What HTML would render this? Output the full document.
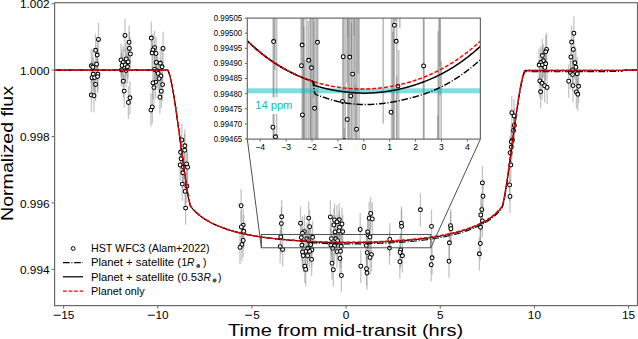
<!DOCTYPE html><html><head><meta charset="utf-8"><style>html,body{margin:0;padding:0;background:#fff;overflow:hidden}svg{display:block}text{font-family:"Liberation Sans",sans-serif;fill:#000}</style></head><body>
<svg width="638" height="339" viewBox="0 0 638 339">
<defs><clipPath id="mc"><rect x="54.50" y="2.70" width="582.90" height="302.90"/></clipPath>
<clipPath id="ic"><rect x="247.30" y="18.10" width="233.10" height="121.00"/></clipPath></defs>
<rect width="638" height="339" fill="#fff"/>
<g clip-path="url(#mc)">
<g stroke="#808080" stroke-opacity="0.47" stroke-width="1.25">
<line x1="98.5" y1="22.8" x2="98.5" y2="56.0"/>
<line x1="95.6" y1="33.7" x2="95.6" y2="66.9"/>
<line x1="97.2" y1="38.5" x2="97.2" y2="71.7"/>
<line x1="96.6" y1="47.6" x2="96.6" y2="80.8"/>
<line x1="91.3" y1="49.2" x2="91.3" y2="82.4"/>
<line x1="92.8" y1="50.6" x2="92.8" y2="83.8"/>
<line x1="93.3" y1="57.6" x2="93.3" y2="90.8"/>
<line x1="97.9" y1="57.6" x2="97.9" y2="90.8"/>
<line x1="92.0" y1="61.1" x2="92.0" y2="94.3"/>
<line x1="94.6" y1="61.0" x2="94.6" y2="94.2"/>
<line x1="97.6" y1="60.0" x2="97.6" y2="93.2"/>
<line x1="95.6" y1="67.8" x2="95.6" y2="101.0"/>
<line x1="91.3" y1="78.4" x2="91.3" y2="111.6"/>
<line x1="94.0" y1="79.1" x2="94.0" y2="112.3"/>
<line x1="125.0" y1="18.8" x2="125.0" y2="52.0"/>
<line x1="129.1" y1="25.6" x2="129.1" y2="58.8"/>
<line x1="129.4" y1="31.8" x2="129.4" y2="65.0"/>
<line x1="130.4" y1="37.4" x2="130.4" y2="70.6"/>
<line x1="121.0" y1="43.4" x2="121.0" y2="76.6"/>
<line x1="126.3" y1="42.4" x2="126.3" y2="75.6"/>
<line x1="128.1" y1="45.3" x2="128.1" y2="78.5"/>
<line x1="123.3" y1="45.8" x2="123.3" y2="79.0"/>
<line x1="122.1" y1="48.9" x2="122.1" y2="82.1"/>
<line x1="125.2" y1="48.2" x2="125.2" y2="81.4"/>
<line x1="127.5" y1="50.2" x2="127.5" y2="83.4"/>
<line x1="121.4" y1="53.3" x2="121.4" y2="86.5"/>
<line x1="126.0" y1="53.8" x2="126.0" y2="87.0"/>
<line x1="123.3" y1="64.6" x2="123.3" y2="97.8"/>
<line x1="124.2" y1="74.5" x2="124.2" y2="107.7"/>
<line x1="130.0" y1="81.2" x2="130.0" y2="114.4"/>
<line x1="128.4" y1="85.9" x2="128.4" y2="119.1"/>
<line x1="151.3" y1="21.5" x2="151.3" y2="54.7"/>
<line x1="154.5" y1="31.1" x2="154.5" y2="64.3"/>
<line x1="152.9" y1="33.4" x2="152.9" y2="66.6"/>
<line x1="152.1" y1="36.5" x2="152.1" y2="69.7"/>
<line x1="156.0" y1="36.9" x2="156.0" y2="70.1"/>
<line x1="163.1" y1="31.8" x2="163.1" y2="65.0"/>
<line x1="156.3" y1="45.8" x2="156.3" y2="79.0"/>
<line x1="160.3" y1="46.7" x2="160.3" y2="79.9"/>
<line x1="162.1" y1="50.2" x2="162.1" y2="83.4"/>
<line x1="154.6" y1="52.9" x2="154.6" y2="86.1"/>
<line x1="157.1" y1="54.4" x2="157.1" y2="87.6"/>
<line x1="158.1" y1="56.9" x2="158.1" y2="90.1"/>
<line x1="160.9" y1="59.4" x2="160.9" y2="92.6"/>
<line x1="159.1" y1="62.0" x2="159.1" y2="95.2"/>
<line x1="155.6" y1="65.5" x2="155.6" y2="98.7"/>
<line x1="152.9" y1="66.3" x2="152.9" y2="99.5"/>
<line x1="162.6" y1="68.0" x2="162.6" y2="101.2"/>
<line x1="153.9" y1="71.0" x2="153.9" y2="104.2"/>
<line x1="161.3" y1="74.6" x2="161.3" y2="107.8"/>
<line x1="159.9" y1="80.6" x2="159.9" y2="113.8"/>
<line x1="152.3" y1="90.3" x2="152.3" y2="123.5"/>
<line x1="150.9" y1="93.5" x2="150.9" y2="126.7"/>
<line x1="181.9" y1="123.4" x2="181.9" y2="156.6"/>
<line x1="184.9" y1="129.2" x2="184.9" y2="162.4"/>
<line x1="184.6" y1="133.6" x2="184.6" y2="166.8"/>
<line x1="180.6" y1="135.7" x2="180.6" y2="168.9"/>
<line x1="181.1" y1="142.2" x2="181.1" y2="175.4"/>
<line x1="180.1" y1="148.4" x2="180.1" y2="181.6"/>
<line x1="186.6" y1="147.4" x2="186.6" y2="180.6"/>
<line x1="187.6" y1="150.6" x2="187.6" y2="183.8"/>
<line x1="183.5" y1="150.5" x2="183.5" y2="183.7"/>
<line x1="182.9" y1="156.2" x2="182.9" y2="189.4"/>
<line x1="182.3" y1="167.5" x2="182.3" y2="200.7"/>
<line x1="186.9" y1="169.7" x2="186.9" y2="202.9"/>
<line x1="185.1" y1="174.8" x2="185.1" y2="208.0"/>
<line x1="185.6" y1="191.5" x2="185.6" y2="224.7"/>
<line x1="241.1" y1="189.1" x2="241.1" y2="222.3"/>
<line x1="243.2" y1="208.5" x2="243.2" y2="241.7"/>
<line x1="241.3" y1="210.4" x2="241.3" y2="243.6"/>
<line x1="243.8" y1="214.7" x2="243.8" y2="247.9"/>
<line x1="243.2" y1="223.9" x2="243.2" y2="257.1"/>
<line x1="241.9" y1="228.0" x2="241.9" y2="261.2"/>
<line x1="240.0" y1="230.8" x2="240.0" y2="264.0"/>
<line x1="281.7" y1="200.2" x2="281.7" y2="233.4"/>
<line x1="281.4" y1="207.0" x2="281.4" y2="240.2"/>
<line x1="280.8" y1="220.4" x2="280.8" y2="253.6"/>
<line x1="280.2" y1="230.0" x2="280.2" y2="263.2"/>
<line x1="282.7" y1="233.0" x2="282.7" y2="266.2"/>
<line x1="300.5" y1="206.6" x2="300.5" y2="239.8"/>
<line x1="308.7" y1="201.5" x2="308.7" y2="234.7"/>
<line x1="309.6" y1="210.1" x2="309.6" y2="243.3"/>
<line x1="304.4" y1="215.0" x2="304.4" y2="248.2"/>
<line x1="302.5" y1="216.6" x2="302.5" y2="249.8"/>
<line x1="301.3" y1="221.0" x2="301.3" y2="254.2"/>
<line x1="312.6" y1="220.7" x2="312.6" y2="253.9"/>
<line x1="306.9" y1="222.2" x2="306.9" y2="255.4"/>
<line x1="308.6" y1="224.1" x2="308.6" y2="257.3"/>
<line x1="310.7" y1="227.9" x2="310.7" y2="261.1"/>
<line x1="301.9" y1="228.5" x2="301.9" y2="261.7"/>
<line x1="307.6" y1="231.6" x2="307.6" y2="264.8"/>
<line x1="311.9" y1="233.2" x2="311.9" y2="266.4"/>
<line x1="305.7" y1="234.8" x2="305.7" y2="268.0"/>
<line x1="302.5" y1="235.4" x2="302.5" y2="268.6"/>
<line x1="309.6" y1="234.8" x2="309.6" y2="268.0"/>
<line x1="303.2" y1="239.1" x2="303.2" y2="272.3"/>
<line x1="307.6" y1="239.1" x2="307.6" y2="272.3"/>
<line x1="311.6" y1="242.8" x2="311.6" y2="276.0"/>
<line x1="304.8" y1="249.7" x2="304.8" y2="282.9"/>
<line x1="305.7" y1="252.8" x2="305.7" y2="286.0"/>
<line x1="330.4" y1="200.3" x2="330.4" y2="233.5"/>
<line x1="334.5" y1="203.4" x2="334.5" y2="236.6"/>
<line x1="339.2" y1="203.2" x2="339.2" y2="236.4"/>
<line x1="337.0" y1="205.3" x2="337.0" y2="238.5"/>
<line x1="333.9" y1="208.4" x2="333.9" y2="241.6"/>
<line x1="342.0" y1="207.4" x2="342.0" y2="240.6"/>
<line x1="339.5" y1="210.9" x2="339.5" y2="244.1"/>
<line x1="335.1" y1="215.3" x2="335.1" y2="248.5"/>
<line x1="338.9" y1="214.4" x2="338.9" y2="247.6"/>
<line x1="342.7" y1="215.0" x2="342.7" y2="248.2"/>
<line x1="331.4" y1="222.0" x2="331.4" y2="255.2"/>
<line x1="335.8" y1="222.2" x2="335.8" y2="255.4"/>
<line x1="337.6" y1="224.1" x2="337.6" y2="257.3"/>
<line x1="330.8" y1="228.5" x2="330.8" y2="261.7"/>
<line x1="334.5" y1="229.1" x2="334.5" y2="262.3"/>
<line x1="341.2" y1="229.7" x2="341.2" y2="262.9"/>
<line x1="332.6" y1="231.6" x2="332.6" y2="264.8"/>
<line x1="337.0" y1="235.0" x2="337.0" y2="268.2"/>
<line x1="340.5" y1="234.6" x2="340.5" y2="267.8"/>
<line x1="339.9" y1="241.9" x2="339.9" y2="275.1"/>
<line x1="332.0" y1="246.6" x2="332.0" y2="279.8"/>
<line x1="333.3" y1="253.2" x2="333.3" y2="286.4"/>
<line x1="341.4" y1="258.9" x2="341.4" y2="292.1"/>
<line x1="360.2" y1="212.9" x2="360.2" y2="246.1"/>
<line x1="360.8" y1="249.7" x2="360.8" y2="282.9"/>
<line x1="369.2" y1="201.6" x2="369.2" y2="234.8"/>
<line x1="370.7" y1="196.9" x2="370.7" y2="230.1"/>
<line x1="372.3" y1="202.4" x2="372.3" y2="235.6"/>
<line x1="367.7" y1="215.3" x2="367.7" y2="248.5"/>
<line x1="368.1" y1="218.3" x2="368.1" y2="251.5"/>
<line x1="370.0" y1="220.4" x2="370.0" y2="253.6"/>
<line x1="366.3" y1="229.0" x2="366.3" y2="262.2"/>
<line x1="367.2" y1="236.0" x2="367.2" y2="269.2"/>
<line x1="371.5" y1="238.0" x2="371.5" y2="271.2"/>
<line x1="370.0" y1="240.9" x2="370.0" y2="274.1"/>
<line x1="366.5" y1="252.2" x2="366.5" y2="285.4"/>
<line x1="367.0" y1="256.4" x2="367.0" y2="289.6"/>
<line x1="389.8" y1="222.9" x2="389.8" y2="256.1"/>
<line x1="389.5" y1="231.5" x2="389.5" y2="264.7"/>
<line x1="401.4" y1="206.6" x2="401.4" y2="239.8"/>
<line x1="401.6" y1="209.8" x2="401.6" y2="243.0"/>
<line x1="400.7" y1="233.3" x2="400.7" y2="266.5"/>
<line x1="400.1" y1="235.9" x2="400.1" y2="269.1"/>
<line x1="402.4" y1="239.2" x2="402.4" y2="272.4"/>
<line x1="399.9" y1="245.2" x2="399.9" y2="278.4"/>
<line x1="420.4" y1="193.2" x2="420.4" y2="226.4"/>
<line x1="431.5" y1="209.8" x2="431.5" y2="243.0"/>
<line x1="432.1" y1="241.2" x2="432.1" y2="274.4"/>
<line x1="431.2" y1="248.1" x2="431.2" y2="281.3"/>
<line x1="450.5" y1="209.1" x2="450.5" y2="242.3"/>
<line x1="450.9" y1="212.1" x2="450.9" y2="245.3"/>
<line x1="449.4" y1="226.2" x2="449.4" y2="259.4"/>
<line x1="449.0" y1="244.6" x2="449.0" y2="277.8"/>
<line x1="482.4" y1="166.3" x2="482.4" y2="199.5"/>
<line x1="483.0" y1="179.6" x2="483.0" y2="212.8"/>
<line x1="481.8" y1="193.0" x2="481.8" y2="226.2"/>
<line x1="480.8" y1="198.4" x2="480.8" y2="231.6"/>
<line x1="482.4" y1="204.3" x2="482.4" y2="237.5"/>
<line x1="480.5" y1="210.6" x2="480.5" y2="243.8"/>
<line x1="480.3" y1="226.9" x2="480.3" y2="260.1"/>
<line x1="479.4" y1="237.2" x2="479.4" y2="270.4"/>
<line x1="511.8" y1="96.1" x2="511.8" y2="129.3"/>
<line x1="514.1" y1="99.3" x2="514.1" y2="132.5"/>
<line x1="514.4" y1="108.8" x2="514.4" y2="142.0"/>
<line x1="513.6" y1="113.8" x2="513.6" y2="147.0"/>
<line x1="512.3" y1="123.5" x2="512.3" y2="156.7"/>
<line x1="511.3" y1="125.2" x2="511.3" y2="158.4"/>
<line x1="511.3" y1="130.5" x2="511.3" y2="163.7"/>
<line x1="510.1" y1="136.1" x2="510.1" y2="169.3"/>
<line x1="510.8" y1="148.4" x2="510.8" y2="181.6"/>
<line x1="509.6" y1="168.3" x2="509.6" y2="201.5"/>
<line x1="510.0" y1="179.9" x2="510.0" y2="213.1"/>
<line x1="546.6" y1="32.8" x2="546.6" y2="66.0"/>
<line x1="545.7" y1="35.2" x2="545.7" y2="68.4"/>
<line x1="542.4" y1="39.0" x2="542.4" y2="72.2"/>
<line x1="543.4" y1="44.2" x2="543.4" y2="77.4"/>
<line x1="540.8" y1="46.0" x2="540.8" y2="79.2"/>
<line x1="539.1" y1="48.5" x2="539.1" y2="81.7"/>
<line x1="542.5" y1="48.3" x2="542.5" y2="81.5"/>
<line x1="545.7" y1="47.2" x2="545.7" y2="80.4"/>
<line x1="544.9" y1="50.9" x2="544.9" y2="84.1"/>
<line x1="539.8" y1="64.3" x2="539.8" y2="97.5"/>
<line x1="542.1" y1="66.7" x2="542.1" y2="99.9"/>
<line x1="544.6" y1="69.1" x2="544.6" y2="102.3"/>
<line x1="547.1" y1="70.9" x2="547.1" y2="104.1"/>
<line x1="540.6" y1="75.2" x2="540.6" y2="108.4"/>
<line x1="573.9" y1="16.6" x2="573.9" y2="49.8"/>
<line x1="571.6" y1="25.5" x2="571.6" y2="58.7"/>
<line x1="573.3" y1="32.8" x2="573.3" y2="66.0"/>
<line x1="570.9" y1="40.4" x2="570.9" y2="73.6"/>
<line x1="574.9" y1="46.2" x2="574.9" y2="79.4"/>
<line x1="575.9" y1="50.6" x2="575.9" y2="83.8"/>
<line x1="572.6" y1="53.4" x2="572.6" y2="86.6"/>
<line x1="570.4" y1="55.8" x2="570.4" y2="89.0"/>
<line x1="572.6" y1="58.0" x2="572.6" y2="91.2"/>
<line x1="577.3" y1="57.1" x2="577.3" y2="90.3"/>
<line x1="568.7" y1="64.6" x2="568.7" y2="97.8"/>
<line x1="573.0" y1="69.0" x2="573.0" y2="102.2"/>
<line x1="578.6" y1="69.7" x2="578.6" y2="102.9"/>
<line x1="576.4" y1="75.3" x2="576.4" y2="108.5"/>
<line x1="577.8" y1="77.7" x2="577.8" y2="110.9"/>
</g>
<g fill="#fff" stroke="#000" stroke-width="1.05">
<circle cx="98.5" cy="39.4" r="1.95"/>
<circle cx="95.6" cy="50.3" r="1.95"/>
<circle cx="97.2" cy="55.1" r="1.95"/>
<circle cx="96.6" cy="64.2" r="1.95"/>
<circle cx="91.3" cy="65.8" r="1.95"/>
<circle cx="92.8" cy="67.2" r="1.95"/>
<circle cx="93.3" cy="74.2" r="1.95"/>
<circle cx="97.9" cy="74.2" r="1.95"/>
<circle cx="92.0" cy="77.7" r="1.95"/>
<circle cx="94.6" cy="77.6" r="1.95"/>
<circle cx="97.6" cy="76.6" r="1.95"/>
<circle cx="95.6" cy="84.4" r="1.95"/>
<circle cx="91.3" cy="95.0" r="1.95"/>
<circle cx="94.0" cy="95.7" r="1.95"/>
<circle cx="125.0" cy="35.4" r="1.95"/>
<circle cx="129.1" cy="42.2" r="1.95"/>
<circle cx="129.4" cy="48.4" r="1.95"/>
<circle cx="130.4" cy="54.0" r="1.95"/>
<circle cx="121.0" cy="60.0" r="1.95"/>
<circle cx="126.3" cy="59.0" r="1.95"/>
<circle cx="128.1" cy="61.9" r="1.95"/>
<circle cx="123.3" cy="62.4" r="1.95"/>
<circle cx="122.1" cy="65.5" r="1.95"/>
<circle cx="125.2" cy="64.8" r="1.95"/>
<circle cx="127.5" cy="66.8" r="1.95"/>
<circle cx="121.4" cy="69.9" r="1.95"/>
<circle cx="126.0" cy="70.4" r="1.95"/>
<circle cx="123.3" cy="81.2" r="1.95"/>
<circle cx="124.2" cy="91.1" r="1.95"/>
<circle cx="130.0" cy="97.8" r="1.95"/>
<circle cx="128.4" cy="102.5" r="1.95"/>
<circle cx="151.3" cy="38.1" r="1.95"/>
<circle cx="154.5" cy="47.7" r="1.95"/>
<circle cx="152.9" cy="50.0" r="1.95"/>
<circle cx="152.1" cy="53.1" r="1.95"/>
<circle cx="156.0" cy="53.5" r="1.95"/>
<circle cx="163.1" cy="48.4" r="1.95"/>
<circle cx="156.3" cy="62.4" r="1.95"/>
<circle cx="160.3" cy="63.3" r="1.95"/>
<circle cx="162.1" cy="66.8" r="1.95"/>
<circle cx="154.6" cy="69.5" r="1.95"/>
<circle cx="157.1" cy="71.0" r="1.95"/>
<circle cx="158.1" cy="73.5" r="1.95"/>
<circle cx="160.9" cy="76.0" r="1.95"/>
<circle cx="159.1" cy="78.6" r="1.95"/>
<circle cx="155.6" cy="82.1" r="1.95"/>
<circle cx="152.9" cy="82.9" r="1.95"/>
<circle cx="162.6" cy="84.6" r="1.95"/>
<circle cx="153.9" cy="87.6" r="1.95"/>
<circle cx="161.3" cy="91.2" r="1.95"/>
<circle cx="159.9" cy="97.2" r="1.95"/>
<circle cx="152.3" cy="106.9" r="1.95"/>
<circle cx="150.9" cy="110.1" r="1.95"/>
<circle cx="181.9" cy="140.0" r="1.95"/>
<circle cx="184.9" cy="145.8" r="1.95"/>
<circle cx="184.6" cy="150.2" r="1.95"/>
<circle cx="180.6" cy="152.3" r="1.95"/>
<circle cx="181.1" cy="158.8" r="1.95"/>
<circle cx="180.1" cy="165.0" r="1.95"/>
<circle cx="186.6" cy="164.0" r="1.95"/>
<circle cx="187.6" cy="167.2" r="1.95"/>
<circle cx="183.5" cy="167.1" r="1.95"/>
<circle cx="182.9" cy="172.8" r="1.95"/>
<circle cx="182.3" cy="184.1" r="1.95"/>
<circle cx="186.9" cy="186.3" r="1.95"/>
<circle cx="185.1" cy="191.4" r="1.95"/>
<circle cx="185.6" cy="208.1" r="1.95"/>
<circle cx="241.1" cy="205.7" r="1.95"/>
<circle cx="243.2" cy="225.1" r="1.95"/>
<circle cx="241.3" cy="227.0" r="1.95"/>
<circle cx="243.8" cy="231.3" r="1.95"/>
<circle cx="243.2" cy="240.5" r="1.95"/>
<circle cx="241.9" cy="244.6" r="1.95"/>
<circle cx="240.0" cy="247.4" r="1.95"/>
<circle cx="281.7" cy="216.8" r="1.95"/>
<circle cx="281.4" cy="223.6" r="1.95"/>
<circle cx="280.8" cy="237.0" r="1.95"/>
<circle cx="280.2" cy="246.6" r="1.95"/>
<circle cx="282.7" cy="249.6" r="1.95"/>
<circle cx="300.5" cy="223.2" r="1.95"/>
<circle cx="308.7" cy="218.1" r="1.95"/>
<circle cx="309.6" cy="226.7" r="1.95"/>
<circle cx="304.4" cy="231.6" r="1.95"/>
<circle cx="302.5" cy="233.2" r="1.95"/>
<circle cx="301.3" cy="237.6" r="1.95"/>
<circle cx="312.6" cy="237.3" r="1.95"/>
<circle cx="306.9" cy="238.8" r="1.95"/>
<circle cx="308.6" cy="240.7" r="1.95"/>
<circle cx="310.7" cy="244.5" r="1.95"/>
<circle cx="301.9" cy="245.1" r="1.95"/>
<circle cx="307.6" cy="248.2" r="1.95"/>
<circle cx="311.9" cy="249.8" r="1.95"/>
<circle cx="305.7" cy="251.4" r="1.95"/>
<circle cx="302.5" cy="252.0" r="1.95"/>
<circle cx="309.6" cy="251.4" r="1.95"/>
<circle cx="303.2" cy="255.7" r="1.95"/>
<circle cx="307.6" cy="255.7" r="1.95"/>
<circle cx="311.6" cy="259.4" r="1.95"/>
<circle cx="304.8" cy="266.3" r="1.95"/>
<circle cx="305.7" cy="269.4" r="1.95"/>
<circle cx="330.4" cy="216.9" r="1.95"/>
<circle cx="334.5" cy="220.0" r="1.95"/>
<circle cx="339.2" cy="219.8" r="1.95"/>
<circle cx="337.0" cy="221.9" r="1.95"/>
<circle cx="333.9" cy="225.0" r="1.95"/>
<circle cx="342.0" cy="224.0" r="1.95"/>
<circle cx="339.5" cy="227.5" r="1.95"/>
<circle cx="335.1" cy="231.9" r="1.95"/>
<circle cx="338.9" cy="231.0" r="1.95"/>
<circle cx="342.7" cy="231.6" r="1.95"/>
<circle cx="331.4" cy="238.6" r="1.95"/>
<circle cx="335.8" cy="238.8" r="1.95"/>
<circle cx="337.6" cy="240.7" r="1.95"/>
<circle cx="330.8" cy="245.1" r="1.95"/>
<circle cx="334.5" cy="245.7" r="1.95"/>
<circle cx="341.2" cy="246.3" r="1.95"/>
<circle cx="332.6" cy="248.2" r="1.95"/>
<circle cx="337.0" cy="251.6" r="1.95"/>
<circle cx="340.5" cy="251.2" r="1.95"/>
<circle cx="339.9" cy="258.5" r="1.95"/>
<circle cx="332.0" cy="263.2" r="1.95"/>
<circle cx="333.3" cy="269.8" r="1.95"/>
<circle cx="341.4" cy="275.5" r="1.95"/>
<circle cx="360.2" cy="229.5" r="1.95"/>
<circle cx="360.8" cy="266.3" r="1.95"/>
<circle cx="369.2" cy="218.2" r="1.95"/>
<circle cx="370.7" cy="213.5" r="1.95"/>
<circle cx="372.3" cy="219.0" r="1.95"/>
<circle cx="367.7" cy="231.9" r="1.95"/>
<circle cx="368.1" cy="234.9" r="1.95"/>
<circle cx="370.0" cy="237.0" r="1.95"/>
<circle cx="366.3" cy="245.6" r="1.95"/>
<circle cx="367.2" cy="252.6" r="1.95"/>
<circle cx="371.5" cy="254.6" r="1.95"/>
<circle cx="370.0" cy="257.5" r="1.95"/>
<circle cx="366.5" cy="268.8" r="1.95"/>
<circle cx="367.0" cy="273.0" r="1.95"/>
<circle cx="389.8" cy="239.5" r="1.95"/>
<circle cx="389.5" cy="248.1" r="1.95"/>
<circle cx="401.4" cy="223.2" r="1.95"/>
<circle cx="401.6" cy="226.4" r="1.95"/>
<circle cx="400.7" cy="249.9" r="1.95"/>
<circle cx="400.1" cy="252.5" r="1.95"/>
<circle cx="402.4" cy="255.8" r="1.95"/>
<circle cx="399.9" cy="261.8" r="1.95"/>
<circle cx="420.4" cy="209.8" r="1.95"/>
<circle cx="431.5" cy="226.4" r="1.95"/>
<circle cx="432.1" cy="257.8" r="1.95"/>
<circle cx="431.2" cy="264.7" r="1.95"/>
<circle cx="450.5" cy="225.7" r="1.95"/>
<circle cx="450.9" cy="228.7" r="1.95"/>
<circle cx="449.4" cy="242.8" r="1.95"/>
<circle cx="449.0" cy="261.2" r="1.95"/>
<circle cx="482.4" cy="182.9" r="1.95"/>
<circle cx="483.0" cy="196.2" r="1.95"/>
<circle cx="481.8" cy="209.6" r="1.95"/>
<circle cx="480.8" cy="215.0" r="1.95"/>
<circle cx="482.4" cy="220.9" r="1.95"/>
<circle cx="480.5" cy="227.2" r="1.95"/>
<circle cx="480.3" cy="243.5" r="1.95"/>
<circle cx="479.4" cy="253.8" r="1.95"/>
<circle cx="511.8" cy="112.7" r="1.95"/>
<circle cx="514.1" cy="115.9" r="1.95"/>
<circle cx="514.4" cy="125.4" r="1.95"/>
<circle cx="513.6" cy="130.4" r="1.95"/>
<circle cx="512.3" cy="140.1" r="1.95"/>
<circle cx="511.3" cy="141.8" r="1.95"/>
<circle cx="511.3" cy="147.1" r="1.95"/>
<circle cx="510.1" cy="152.7" r="1.95"/>
<circle cx="510.8" cy="165.0" r="1.95"/>
<circle cx="509.6" cy="184.9" r="1.95"/>
<circle cx="510.0" cy="196.5" r="1.95"/>
<circle cx="546.6" cy="49.4" r="1.95"/>
<circle cx="545.7" cy="51.8" r="1.95"/>
<circle cx="542.4" cy="55.6" r="1.95"/>
<circle cx="543.4" cy="60.8" r="1.95"/>
<circle cx="540.8" cy="62.6" r="1.95"/>
<circle cx="539.1" cy="65.1" r="1.95"/>
<circle cx="542.5" cy="64.9" r="1.95"/>
<circle cx="545.7" cy="63.8" r="1.95"/>
<circle cx="544.9" cy="67.5" r="1.95"/>
<circle cx="539.8" cy="80.9" r="1.95"/>
<circle cx="542.1" cy="83.3" r="1.95"/>
<circle cx="544.6" cy="85.7" r="1.95"/>
<circle cx="547.1" cy="87.5" r="1.95"/>
<circle cx="540.6" cy="91.8" r="1.95"/>
<circle cx="573.9" cy="33.2" r="1.95"/>
<circle cx="571.6" cy="42.1" r="1.95"/>
<circle cx="573.3" cy="49.4" r="1.95"/>
<circle cx="570.9" cy="57.0" r="1.95"/>
<circle cx="574.9" cy="62.8" r="1.95"/>
<circle cx="575.9" cy="67.2" r="1.95"/>
<circle cx="572.6" cy="70.0" r="1.95"/>
<circle cx="570.4" cy="72.4" r="1.95"/>
<circle cx="572.6" cy="74.6" r="1.95"/>
<circle cx="577.3" cy="73.7" r="1.95"/>
<circle cx="568.7" cy="81.2" r="1.95"/>
<circle cx="573.0" cy="85.6" r="1.95"/>
<circle cx="578.6" cy="86.3" r="1.95"/>
<circle cx="576.4" cy="91.9" r="1.95"/>
<circle cx="577.8" cy="94.3" r="1.95"/>
</g>
<path d="M44.82 70.15L74.95 70.15L105.08 70.15L135.20 70.15L165.33 70.15L165.57 70.15L165.81 70.15L166.04 70.15L166.28 70.15L166.52 70.15L166.76 70.15L166.99 70.15L167.23 70.15L167.47 70.15L167.71 70.15L167.94 70.46L168.18 70.89L168.42 71.40L168.65 71.98L168.89 72.61L169.13 73.22L169.37 74.02L169.60 74.88L169.84 75.77L170.08 76.70L170.32 77.66L170.55 78.64L170.79 79.62L171.03 80.74L171.27 81.89L171.50 83.07L171.74 84.26L171.98 85.47L172.22 86.63L172.45 87.94L172.69 89.28L172.93 90.65L173.16 92.03L173.40 93.42L173.64 94.81L173.88 96.17L174.11 97.67L174.35 99.19L174.59 100.71L174.83 102.25L175.06 103.78L175.30 105.27L175.54 106.84L175.78 108.47L176.01 110.11L176.25 111.76L176.49 113.40L176.72 115.03L176.96 116.60L177.20 118.33L177.44 120.05L177.67 121.78L177.91 123.50L178.15 125.22L178.39 126.88L178.62 128.59L178.86 130.38L179.10 132.16L179.34 133.94L179.57 135.70L179.81 137.45L180.05 139.12L180.29 140.94L180.52 142.75L180.76 144.55L181.00 146.34L181.23 148.11L181.47 149.83L181.71 151.56L181.95 153.38L182.18 155.18L182.42 156.96L182.66 158.73L182.90 160.46L183.13 162.10L183.37 163.89L183.61 165.66L183.85 167.40L184.08 169.13L184.32 170.82L184.56 172.46L184.79 174.08L185.03 175.79L185.27 177.46L185.51 179.11L185.74 180.72L185.98 182.29L186.22 183.74L186.46 185.34L186.69 186.90L186.93 188.42L187.17 189.90L187.41 191.33L187.64 192.69L187.88 194.00L188.12 195.38L188.36 196.71L188.59 197.99L188.83 199.21L189.07 200.34L189.30 201.32L189.54 202.41L189.78 203.42L190.02 204.34L190.25 205.15L190.49 205.82L190.73 206.20L190.97 206.51L191.20 206.88L191.44 207.22L191.68 207.53L191.92 207.81L192.15 208.10L192.39 208.34L192.63 208.68L192.86 208.99L193.10 209.28L193.34 209.53L193.58 209.75L194.54 210.85L195.51 211.80L196.47 212.75L197.44 213.52L198.40 214.44L199.37 215.19L200.33 215.97L201.30 216.71L202.26 217.34L203.23 218.09L204.19 218.71L205.16 219.36L206.13 219.87L207.09 220.52L208.06 221.05L209.02 221.59L209.99 222.15L210.95 222.56L211.92 223.16L212.88 223.60L213.85 224.09L214.81 224.48L215.78 224.96L216.74 225.38L217.71 225.75L218.67 226.22L219.64 226.58L220.60 226.99L221.57 227.26L222.53 227.71L223.50 228.03L224.46 228.37L225.43 228.74L226.40 228.98L227.36 229.40L228.33 229.68L229.29 230.01L230.26 230.25L231.22 230.57L232.19 230.86L233.15 231.07L234.12 231.43L235.08 231.67L236.05 231.95L237.01 232.12L237.98 232.42L238.94 232.66L239.91 232.85L240.87 233.15L241.84 233.34L242.80 233.60L243.77 233.72L244.73 234.00L245.70 234.20L246.66 234.36L247.63 234.62L248.60 234.79L249.56 235.01L250.53 235.11L251.49 235.35L252.46 235.52L253.42 235.65L254.39 235.90L255.35 236.04L256.32 236.22L257.28 236.31L258.25 236.51L259.21 236.68L260.18 236.75L261.14 236.99L262.11 237.10L263.07 237.27L264.04 237.37L265.00 237.49L265.97 237.67L266.93 237.77L267.90 237.93L268.87 237.98L269.83 238.15L270.80 238.28L271.76 238.30L272.73 238.53L273.69 238.53L274.66 238.73L275.62 238.83L276.59 238.87L277.55 239.07L278.52 239.11L279.48 239.24L280.45 239.33L281.41 239.35L282.38 239.55L283.34 239.53L284.31 239.69L285.27 239.79L286.24 239.77L287.20 239.97L288.17 239.98L289.14 240.08L290.10 240.21L291.07 240.26L292.03 240.34L293.00 240.40L293.96 240.38L294.93 240.56L295.89 240.58L296.86 240.62L297.82 240.76L298.79 240.74L299.75 240.83L300.72 240.94L301.68 240.90L302.65 241.00L303.61 241.11L304.58 241.07L305.54 241.14L306.51 241.26L307.47 241.26L308.44 241.24L308.63 241.34L308.82 241.36L309.00 241.33L309.19 241.48L309.38 241.65L309.57 241.85L309.76 242.08L309.95 242.21L310.13 242.35L310.32 242.58L310.51 242.60L310.70 242.72L310.89 242.78L311.52 242.84L312.14 242.87L312.77 242.88L313.40 242.85L314.03 242.94L314.66 242.90L315.28 242.98L315.91 243.04L316.54 243.09L317.17 243.13L317.79 243.17L318.42 243.20L319.05 243.22L319.68 243.24L320.31 243.26L320.93 243.28L321.56 243.30L322.19 243.32L322.82 243.35L323.45 243.38L324.07 243.41L324.70 243.45L325.33 243.49L325.96 243.53L326.58 243.56L327.21 243.59L327.84 243.60L328.47 243.59L329.10 243.55L329.72 243.63L330.35 243.66L330.98 243.71L331.61 243.69L332.24 243.58L332.86 243.74L333.49 243.76L334.12 243.61L334.75 243.80L335.38 243.71L336.00 243.83L336.63 243.69L337.26 243.85L337.89 243.84L338.51 243.71L339.14 243.81L339.77 243.86L340.40 243.88L341.03 243.88L341.65 243.84L342.28 243.72L342.91 243.94L343.54 243.86L344.17 243.95L344.79 243.77L345.42 243.89L346.05 243.93L346.68 243.94L347.30 243.90L347.93 243.79L348.56 243.96L349.19 243.89L349.82 243.96L350.44 243.77L351.07 243.89L351.70 243.93L352.33 243.94L352.96 243.93L353.58 243.89L354.21 243.80L354.84 243.89L355.47 243.92L356.10 243.81L356.72 243.90L357.35 243.83L357.98 243.88L358.61 243.76L359.23 243.87L359.86 243.81L360.49 243.75L361.12 243.83L361.75 243.83L362.37 243.77L363.00 243.67L363.63 243.74L364.26 243.77L364.89 243.77L365.51 243.76L366.14 243.73L366.77 243.69L367.40 243.65L368.02 243.64L368.65 243.65L369.28 243.64L369.91 243.62L370.54 243.60L371.16 243.58L371.79 243.55L372.42 243.50L373.05 243.50L373.68 243.50L374.30 243.50L374.93 243.49L375.56 243.48L376.19 243.46L376.81 243.43L377.44 243.38L378.07 243.33L378.70 243.26L379.33 243.30L379.95 243.23L380.58 243.26L381.21 243.27L381.84 243.26L382.47 243.23L383.09 243.17L383.72 243.09L384.35 243.13L384.98 243.07L385.61 243.09L386.23 243.09L386.86 243.05L387.49 242.99L388.12 242.89L388.74 242.94L389.37 242.91L390.00 242.91L390.63 242.88L391.26 242.82L391.88 242.71L392.51 242.75L393.14 242.73L393.77 242.73L394.40 242.69L395.02 242.60L395.65 242.55L396.28 242.51L396.91 242.53L397.53 242.51L398.16 242.44L398.79 242.32L399.42 242.34L400.05 242.32L400.67 242.30L401.30 242.24L401.93 242.13L402.56 242.14L403.19 242.08L403.81 242.07L404.44 242.01L405.07 241.90L405.70 241.90L406.33 241.84L406.95 241.82L407.58 241.76L408.21 241.63L408.84 241.63L409.46 241.58L410.09 241.55L410.72 241.48L411.35 241.34L411.98 241.28L412.60 241.30L413.23 241.26L413.86 241.17L414.49 241.04L415.12 241.00L415.74 241.00L416.37 240.94L417.00 240.82L417.63 240.79L418.25 240.70L418.88 240.68L419.51 240.59L420.14 240.44L420.77 240.37L421.39 240.37L422.02 240.32L422.65 240.20L423.28 240.11L423.91 240.02L424.53 240.00L425.16 239.92L425.79 239.77L426.42 239.72L427.05 239.65L427.67 239.59L428.30 239.47L428.93 239.35L429.56 239.26L430.18 239.23L430.81 239.13L431.44 238.97L432.07 238.90L432.70 238.84L433.32 238.76L433.95 238.62L434.58 238.52L435.21 238.41L435.84 238.35L436.46 238.24L437.09 238.05L437.72 237.94L438.35 237.91L438.97 237.81L439.60 237.65L440.23 237.56L440.86 237.43L441.49 237.36L442.11 237.21L442.74 236.99L443.37 236.92L444.00 236.86L444.63 236.73L445.25 236.54L445.88 236.42L446.51 236.33L447.14 236.21L447.76 236.04L448.39 235.91L449.02 235.76L449.65 235.66L450.28 235.49L450.90 235.25L451.53 235.15L452.16 235.07L452.79 234.91L453.42 234.69L454.04 234.53L454.67 234.43L455.30 234.29L455.93 234.08L456.56 233.93L457.18 233.75L457.81 233.62L458.44 233.42L459.07 233.20L459.69 233.03L460.32 232.90L460.95 232.71L461.58 232.45L462.21 232.25L462.83 232.14L463.46 231.95L464.09 231.70L464.72 231.52L465.35 231.33L465.97 231.14L466.60 230.89L467.23 230.69L467.86 230.46L468.48 230.28L469.11 230.03L469.74 229.74L470.37 229.52L471.00 229.35L471.62 229.10L472.25 228.78L472.88 228.52L473.51 228.35L474.14 228.10L474.76 227.78L475.39 227.53L476.02 227.28L476.65 227.03L477.28 226.70L477.90 226.43L478.53 226.13L479.16 225.86L479.79 225.54L480.41 225.21L481.04 224.88L481.67 224.61L482.30 224.27L482.93 223.85L483.55 223.53L484.18 223.25L484.81 222.89L485.44 222.46L486.07 222.06L486.69 221.76L487.32 221.38L487.95 220.94L488.58 220.54L489.20 220.13L489.83 219.73L490.46 219.25L491.09 218.81L491.72 218.33L492.34 217.89L492.97 217.38L493.60 216.86L494.23 216.33L494.86 215.84L495.48 215.28L496.11 214.64L496.74 214.06L497.37 213.51L498.00 212.88L498.62 212.16L498.86 211.95L499.10 211.71L499.34 211.44L499.57 211.14L499.81 210.80L500.05 210.58L500.28 210.30L500.52 210.03L500.76 209.74L501.00 209.42L501.23 209.06L501.47 208.78L501.71 208.42L501.95 208.12L502.18 207.78L502.42 207.14L502.66 206.35L502.90 205.44L503.13 204.62L503.37 203.62L503.61 202.53L503.84 201.37L504.08 200.14L504.32 198.86L504.56 197.63L504.79 196.36L505.03 195.00L505.27 193.59L505.51 192.13L505.74 190.64L505.98 189.10L506.22 187.70L506.46 186.19L506.69 184.62L506.93 183.02L507.17 181.38L507.41 179.72L507.64 178.12L507.88 176.52L508.12 174.86L508.35 173.16L508.59 171.44L508.83 169.69L509.07 167.93L509.30 166.30L509.54 164.59L509.78 162.83L510.02 161.06L510.25 159.27L510.49 157.46L510.73 155.73L510.97 154.02L511.20 152.25L511.44 150.46L511.68 148.65L511.91 146.84L512.15 145.02L512.39 143.34L512.63 141.59L512.86 139.81L513.10 138.02L513.34 136.22L513.58 134.42L513.81 132.69L514.05 131.01L514.29 129.28L514.53 127.53L514.76 125.78L515.00 124.03L515.24 122.28L515.48 120.67L515.71 119.01L515.95 117.34L516.19 115.66L516.42 113.98L516.66 112.31L516.90 110.69L517.14 109.17L517.37 107.60L517.61 106.02L517.85 104.44L518.09 102.88L518.32 101.33L518.56 99.91L518.80 98.47L519.04 97.02L519.27 95.58L519.51 94.15L519.75 92.74L519.98 91.35L520.22 90.14L520.46 88.86L520.70 87.59L520.93 86.33L521.17 85.10L521.41 83.89L521.65 82.82L521.88 81.76L522.12 80.70L522.36 79.66L522.60 78.66L522.83 77.69L523.07 76.76L523.31 76.02L523.55 75.25L523.78 74.52L524.02 73.83L524.26 73.20L524.49 72.64L524.73 72.25L524.97 71.96L525.21 71.80L525.44 71.80L525.68 71.80L525.92 71.79L526.16 71.79L526.39 71.79L526.63 71.79L526.87 71.79L529.23 71.78L531.60 71.78L533.97 71.77L536.33 71.77L538.70 71.76L541.06 71.76L543.43 71.75L545.79 71.75L548.16 71.74L550.53 71.74L552.89 71.73L555.26 71.73L557.62 71.72L559.99 71.72L562.36 71.71L564.72 71.71L567.09 71.70L569.45 71.70L571.82 71.69L574.18 71.68L576.55 71.68L578.92 71.67L581.28 71.67L583.65 71.66L586.01 71.66L588.38 71.65L590.75 71.65L593.11 71.64L595.48 71.63L597.84 71.63L600.21 71.62L602.57 71.61L604.94 71.60L607.31 71.58L609.67 71.57L612.04 71.55L614.40 71.53L616.77 71.51L619.13 71.48L619.48 71.48L619.83 71.47L620.18 71.47L620.52 71.44L620.87 71.40L621.22 71.33L621.56 71.25L621.91 71.15L622.26 71.04L622.60 70.92L622.95 70.80L623.30 70.67L623.64 70.54L623.99 70.42L624.34 70.29L624.68 70.18L625.03 70.15L625.38 70.15L625.73 70.15L631.14 70.15L636.55 70.15L641.97 70.15L647.38 70.15" fill="none" stroke="#000" stroke-width="1.1" stroke-dasharray="6.7 1.7 1.05 1.7"/>
<path d="M44.82 70.15L74.95 70.15L105.08 70.15L135.20 70.15L165.33 70.15L165.57 70.15L165.81 70.15L166.04 70.15L166.28 70.15L166.52 70.15L166.76 70.15L166.99 70.15L167.23 70.15L167.47 70.15L167.71 70.15L167.94 70.46L168.18 70.89L168.42 71.40L168.65 71.98L168.89 72.61L169.13 73.22L169.37 74.02L169.60 74.88L169.84 75.77L170.08 76.70L170.32 77.66L170.55 78.64L170.79 79.62L171.03 80.74L171.27 81.89L171.50 83.07L171.74 84.26L171.98 85.47L172.22 86.63L172.45 87.94L172.69 89.28L172.93 90.65L173.16 92.03L173.40 93.42L173.64 94.81L173.88 96.17L174.11 97.67L174.35 99.19L174.59 100.71L174.83 102.25L175.06 103.78L175.30 105.27L175.54 106.84L175.78 108.47L176.01 110.11L176.25 111.76L176.49 113.40L176.72 115.03L176.96 116.60L177.20 118.33L177.44 120.05L177.67 121.78L177.91 123.50L178.15 125.22L178.39 126.88L178.62 128.59L178.86 130.38L179.10 132.16L179.34 133.94L179.57 135.70L179.81 137.45L180.05 139.12L180.29 140.94L180.52 142.75L180.76 144.55L181.00 146.34L181.23 148.11L181.47 149.83L181.71 151.56L181.95 153.38L182.18 155.18L182.42 156.96L182.66 158.73L182.90 160.46L183.13 162.10L183.37 163.89L183.61 165.66L183.85 167.40L184.08 169.13L184.32 170.82L184.56 172.46L184.79 174.08L185.03 175.79L185.27 177.46L185.51 179.11L185.74 180.72L185.98 182.29L186.22 183.74L186.46 185.34L186.69 186.90L186.93 188.42L187.17 189.90L187.41 191.33L187.64 192.69L187.88 194.00L188.12 195.38L188.36 196.71L188.59 197.99L188.83 199.21L189.07 200.34L189.30 201.32L189.54 202.41L189.78 203.42L190.02 204.34L190.25 205.15L190.49 205.82L190.73 206.20L190.97 206.51L191.20 206.88L191.44 207.22L191.68 207.53L191.92 207.81L192.15 208.10L192.39 208.34L192.63 208.68L192.86 208.99L193.10 209.28L193.34 209.53L193.58 209.75L194.54 210.85L195.51 211.80L196.47 212.75L197.44 213.52L198.40 214.44L199.37 215.19L200.33 215.97L201.30 216.71L202.26 217.34L203.23 218.09L204.19 218.71L205.16 219.36L206.13 219.87L207.09 220.52L208.06 221.05L209.02 221.59L209.99 222.15L210.95 222.56L211.92 223.16L212.88 223.60L213.85 224.09L214.81 224.48L215.78 224.96L216.74 225.38L217.71 225.75L218.67 226.22L219.64 226.58L220.60 226.99L221.57 227.26L222.53 227.71L223.50 228.03L224.46 228.37L225.43 228.74L226.40 228.98L227.36 229.40L228.33 229.68L229.29 230.01L230.26 230.25L231.22 230.57L232.19 230.86L233.15 231.07L234.12 231.43L235.08 231.67L236.05 231.95L237.01 232.12L237.98 232.42L238.94 232.66L239.91 232.85L240.87 233.15L241.84 233.34L242.80 233.60L243.77 233.72L244.73 234.00L245.70 234.20L246.66 234.36L247.63 234.62L248.60 234.79L249.56 235.01L250.53 235.11L251.49 235.35L252.46 235.52L253.42 235.65L254.39 235.90L255.35 236.04L256.32 236.22L257.28 236.31L258.25 236.51L259.21 236.68L260.18 236.75L261.14 236.99L262.11 237.10L263.07 237.27L264.04 237.37L265.00 237.49L265.97 237.67L266.93 237.77L267.90 237.93L268.87 237.98L269.83 238.15L270.80 238.28L271.76 238.30L272.73 238.53L273.69 238.53L274.66 238.73L275.62 238.83L276.59 238.87L277.55 239.07L278.52 239.11L279.48 239.24L280.45 239.33L281.41 239.35L282.38 239.55L283.34 239.53L284.31 239.69L285.27 239.79L286.24 239.77L287.20 239.97L288.17 239.98L289.14 240.08L290.10 240.21L291.07 240.26L292.03 240.34L293.00 240.40L293.96 240.38L294.93 240.56L295.89 240.58L296.86 240.62L297.82 240.76L298.79 240.74L299.75 240.83L300.72 240.94L301.68 240.90L302.65 241.00L303.61 241.11L304.58 241.07L305.54 241.14L306.51 241.26L307.47 241.26L308.44 241.24L308.63 241.34L308.82 241.36L309.00 241.33L309.19 241.41L309.38 241.46L309.57 241.52L309.76 241.62L309.95 241.63L310.13 241.66L310.32 241.79L310.51 241.73L310.70 241.81L310.89 241.86L311.52 241.90L312.14 241.91L312.77 241.91L313.40 241.88L314.03 241.96L314.66 241.91L315.28 241.98L315.91 242.04L316.54 242.08L317.17 242.12L317.79 242.14L318.42 242.16L319.05 242.18L319.68 242.19L320.31 242.20L320.93 242.20L321.56 242.21L322.19 242.22L322.82 242.24L323.45 242.26L324.07 242.29L324.70 242.32L325.33 242.35L325.96 242.38L326.58 242.40L327.21 242.42L327.84 242.43L328.47 242.41L329.10 242.36L329.72 242.43L330.35 242.46L330.98 242.51L331.61 242.48L332.24 242.37L332.86 242.52L333.49 242.54L334.12 242.39L334.75 242.58L335.38 242.48L336.00 242.60L336.63 242.46L337.26 242.61L337.89 242.60L338.51 242.47L339.14 242.58L339.77 242.62L340.40 242.64L341.03 242.64L341.65 242.59L342.28 242.47L342.91 242.69L343.54 242.61L344.17 242.70L344.79 242.52L345.42 242.64L346.05 242.68L346.68 242.68L347.30 242.65L347.93 242.54L348.56 242.71L349.19 242.64L349.82 242.71L350.44 242.52L351.07 242.63L351.70 242.67L352.33 242.68L352.96 242.67L353.58 242.63L354.21 242.54L354.84 242.63L355.47 242.66L356.10 242.55L356.72 242.64L357.35 242.57L357.98 242.62L358.61 242.50L359.23 242.61L359.86 242.55L360.49 242.49L361.12 242.57L361.75 242.57L362.37 242.51L363.00 242.41L363.63 242.48L364.26 242.51L364.89 242.51L365.51 242.49L366.14 242.46L366.77 242.43L367.40 242.38L368.02 242.38L368.65 242.39L369.28 242.37L369.91 242.36L370.54 242.34L371.16 242.32L371.79 242.28L372.42 242.23L373.05 242.23L373.68 242.23L374.30 242.23L374.93 242.22L375.56 242.21L376.19 242.18L376.81 242.15L377.44 242.11L378.07 242.05L378.70 241.98L379.33 242.02L379.95 241.94L380.58 241.97L381.21 241.98L381.84 241.96L382.47 241.92L383.09 241.87L383.72 241.78L384.35 241.81L384.98 241.75L385.61 241.77L386.23 241.76L386.86 241.72L387.49 241.65L388.12 241.54L388.74 241.60L389.37 241.56L390.00 241.56L390.63 241.53L391.26 241.46L391.88 241.35L392.51 241.38L393.14 241.35L393.77 241.35L394.40 241.30L395.02 241.22L395.65 241.16L396.28 241.12L396.91 241.14L397.53 241.11L398.16 241.04L398.79 240.92L399.42 240.93L400.05 240.91L400.67 240.89L401.30 240.83L401.93 240.71L402.56 240.72L403.19 240.67L403.81 240.65L404.44 240.59L405.07 240.47L405.70 240.47L406.33 240.41L406.95 240.40L407.58 240.33L408.21 240.20L408.84 240.20L409.46 240.15L410.09 240.12L410.72 240.04L411.35 239.90L411.98 239.84L412.60 239.86L413.23 239.82L413.86 239.72L414.49 239.60L415.12 239.56L415.74 239.56L416.37 239.50L417.00 239.38L417.63 239.34L418.25 239.25L418.88 239.23L419.51 239.14L420.14 238.99L420.77 238.91L421.39 238.92L422.02 238.86L422.65 238.74L423.28 238.66L423.91 238.57L424.53 238.54L425.16 238.46L425.79 238.31L426.42 238.26L427.05 238.19L427.67 238.13L428.30 238.01L428.93 237.89L429.56 237.80L430.18 237.77L430.81 237.67L431.44 237.51L432.07 237.44L432.70 237.38L433.32 237.30L433.95 237.16L434.58 237.06L435.21 236.95L435.84 236.90L436.46 236.78L437.09 236.60L437.72 236.48L438.35 236.46L438.97 236.36L439.60 236.20L440.23 236.11L440.86 235.98L441.49 235.91L442.11 235.76L442.74 235.55L443.37 235.47L444.00 235.42L444.63 235.29L445.25 235.09L445.88 234.98L446.51 234.89L447.14 234.78L447.76 234.60L448.39 234.48L449.02 234.33L449.65 234.23L450.28 234.07L450.90 233.83L451.53 233.72L452.16 233.64L452.79 233.49L453.42 233.27L454.04 233.11L454.67 233.02L455.30 232.87L455.93 232.67L456.56 232.52L457.18 232.34L457.81 232.21L458.44 232.02L459.07 231.80L459.69 231.63L460.32 231.51L460.95 231.32L461.58 231.05L462.21 230.86L462.83 230.75L463.46 230.57L464.09 230.31L464.72 230.14L465.35 229.94L465.97 229.76L466.60 229.52L467.23 229.31L467.86 229.08L468.48 228.90L469.11 228.66L469.74 228.37L470.37 228.16L471.00 227.98L471.62 227.74L472.25 227.42L472.88 227.16L473.51 226.99L474.14 226.74L474.76 226.43L475.39 226.18L476.02 225.93L476.65 225.68L477.28 225.36L477.90 225.09L478.53 224.78L479.16 224.52L479.79 224.19L480.41 223.87L481.04 223.54L481.67 223.27L482.30 222.94L482.93 222.52L483.55 222.20L484.18 221.92L484.81 221.56L485.44 221.14L486.07 220.73L486.69 220.44L487.32 220.07L487.95 219.62L488.58 219.23L489.20 218.82L489.83 218.42L490.46 217.95L491.09 217.51L491.72 217.03L492.34 216.59L492.97 216.09L493.60 215.57L494.23 215.03L494.86 214.55L495.48 213.99L496.11 213.35L496.74 212.78L497.37 212.23L498.00 211.60L498.62 210.89L498.86 210.68L499.10 210.43L499.34 210.16L499.57 209.86L499.81 209.53L500.05 209.30L500.28 209.03L500.52 208.76L500.76 208.47L501.00 208.15L501.23 207.79L501.47 207.51L501.71 207.15L501.95 206.86L502.18 206.52L502.42 205.88L502.66 205.09L502.90 204.18L503.13 203.36L503.37 202.36L503.61 201.27L503.84 200.11L504.08 198.88L504.32 197.60L504.56 196.38L504.79 195.10L505.03 193.75L505.27 192.34L505.51 190.88L505.74 189.39L505.98 187.86L506.22 186.46L506.46 184.94L506.69 183.38L506.93 181.77L507.17 180.14L507.41 178.48L507.64 176.88L507.88 175.28L508.12 173.62L508.35 171.92L508.59 170.20L508.83 168.46L509.07 166.69L509.30 165.07L509.54 163.35L509.78 161.60L510.02 159.83L510.25 158.04L510.49 156.24L510.73 154.50L510.97 152.79L511.20 151.02L511.44 149.24L511.68 147.43L511.91 145.62L512.15 143.80L512.39 142.12L512.63 140.37L512.86 138.59L513.10 136.80L513.34 135.01L513.58 133.21L513.81 131.48L514.05 129.80L514.29 128.06L514.53 126.32L514.76 124.57L515.00 122.82L515.24 121.07L515.48 119.46L515.71 117.81L515.95 116.13L516.19 114.45L516.42 112.78L516.66 111.11L516.90 109.49L517.14 107.97L517.37 106.40L517.61 104.82L517.85 103.25L518.09 101.68L518.32 100.13L518.56 98.71L518.80 97.28L519.04 95.83L519.27 94.39L519.51 92.96L519.75 91.55L519.98 90.16L520.22 88.95L520.46 87.67L520.70 86.40L520.93 85.14L521.17 83.91L521.41 82.71L521.65 81.63L521.88 80.57L522.12 79.51L522.36 78.48L522.60 77.48L522.83 76.51L523.07 75.58L523.31 74.85L523.55 74.07L523.78 73.34L524.02 72.65L524.26 72.02L524.49 71.47L524.73 71.08L524.97 70.79L525.21 70.62L525.44 70.62L525.68 70.62L525.92 70.62L526.16 70.62L526.39 70.62L526.63 70.62L526.87 70.62L529.23 70.62L531.60 70.62L533.97 70.61L536.33 70.61L538.70 70.61L541.06 70.61L543.43 70.61L545.79 70.61L548.16 70.61L550.53 70.60L552.89 70.60L555.26 70.60L557.62 70.60L559.99 70.60L562.36 70.60L564.72 70.60L567.09 70.59L569.45 70.59L571.82 70.59L574.18 70.59L576.55 70.59L578.92 70.58L581.28 70.58L583.65 70.58L586.01 70.58L588.38 70.58L590.75 70.58L593.11 70.58L595.48 70.57L597.84 70.57L600.21 70.57L602.57 70.57L604.94 70.56L607.31 70.56L609.67 70.55L612.04 70.55L614.40 70.54L616.77 70.53L619.13 70.53L619.48 70.53L619.83 70.52L620.18 70.52L620.52 70.52L620.87 70.50L621.22 70.48L621.56 70.46L621.91 70.43L622.26 70.40L622.60 70.37L622.95 70.33L623.30 70.30L623.64 70.26L623.99 70.23L624.34 70.19L624.68 70.16L625.03 70.15L625.38 70.15L625.73 70.15L631.14 70.15L636.55 70.15L641.97 70.15L647.38 70.15" fill="none" stroke="#000" stroke-width="1.1"/>
<path d="M44.82 70.15L74.95 70.15L105.08 70.15L135.20 70.15L165.33 70.15L165.57 70.15L165.81 70.15L166.04 70.15L166.28 70.15L166.52 70.15L166.76 70.15L166.99 70.15L167.23 70.15L167.47 70.15L167.71 70.15L167.94 70.46L168.18 70.89L168.42 71.40L168.65 71.98L168.89 72.61L169.13 73.22L169.37 74.02L169.60 74.88L169.84 75.77L170.08 76.70L170.32 77.66L170.55 78.64L170.79 79.62L171.03 80.74L171.27 81.89L171.50 83.07L171.74 84.26L171.98 85.47L172.22 86.63L172.45 87.94L172.69 89.28L172.93 90.65L173.16 92.03L173.40 93.42L173.64 94.81L173.88 96.17L174.11 97.67L174.35 99.19L174.59 100.71L174.83 102.25L175.06 103.78L175.30 105.27L175.54 106.84L175.78 108.47L176.01 110.11L176.25 111.76L176.49 113.40L176.72 115.03L176.96 116.60L177.20 118.33L177.44 120.05L177.67 121.78L177.91 123.50L178.15 125.22L178.39 126.88L178.62 128.59L178.86 130.38L179.10 132.16L179.34 133.94L179.57 135.70L179.81 137.45L180.05 139.12L180.29 140.94L180.52 142.75L180.76 144.55L181.00 146.34L181.23 148.11L181.47 149.83L181.71 151.56L181.95 153.38L182.18 155.18L182.42 156.96L182.66 158.73L182.90 160.46L183.13 162.10L183.37 163.89L183.61 165.66L183.85 167.40L184.08 169.13L184.32 170.82L184.56 172.46L184.79 174.08L185.03 175.79L185.27 177.46L185.51 179.11L185.74 180.72L185.98 182.29L186.22 183.74L186.46 185.34L186.69 186.90L186.93 188.42L187.17 189.90L187.41 191.33L187.64 192.69L187.88 194.00L188.12 195.38L188.36 196.71L188.59 197.99L188.83 199.21L189.07 200.34L189.30 201.32L189.54 202.41L189.78 203.42L190.02 204.34L190.25 205.15L190.49 205.82L190.73 206.20L190.97 206.51L191.20 206.88L191.44 207.22L191.68 207.53L191.92 207.81L192.15 208.10L192.39 208.34L192.63 208.68L192.86 208.99L193.10 209.28L193.34 209.53L193.58 209.75L194.54 210.85L195.51 211.80L196.47 212.75L197.44 213.52L198.40 214.44L199.37 215.19L200.33 215.97L201.30 216.71L202.26 217.34L203.23 218.09L204.19 218.71L205.16 219.36L206.13 219.87L207.09 220.52L208.06 221.05L209.02 221.59L209.99 222.15L210.95 222.56L211.92 223.16L212.88 223.60L213.85 224.09L214.81 224.48L215.78 224.96L216.74 225.38L217.71 225.75L218.67 226.22L219.64 226.58L220.60 226.99L221.57 227.26L222.53 227.71L223.50 228.03L224.46 228.37L225.43 228.74L226.40 228.98L227.36 229.40L228.33 229.68L229.29 230.01L230.26 230.25L231.22 230.57L232.19 230.86L233.15 231.07L234.12 231.43L235.08 231.67L236.05 231.95L237.01 232.12L237.98 232.42L238.94 232.66L239.91 232.85L240.87 233.15L241.84 233.34L242.80 233.60L243.77 233.72L244.73 234.00L245.70 234.20L246.66 234.36L247.63 234.62L248.60 234.79L249.56 235.01L250.53 235.11L251.49 235.35L252.46 235.52L253.42 235.65L254.39 235.90L255.35 236.04L256.32 236.22L257.28 236.31L258.25 236.51L259.21 236.68L260.18 236.75L261.14 236.99L262.11 237.10L263.07 237.27L264.04 237.37L265.00 237.49L265.97 237.67L266.93 237.77L267.90 237.93L268.87 237.98L269.83 238.15L270.80 238.28L271.76 238.30L272.73 238.53L273.69 238.53L274.66 238.73L275.62 238.83L276.59 238.87L277.55 239.07L278.52 239.11L279.48 239.24L280.45 239.33L281.41 239.35L282.38 239.55L283.34 239.53L284.31 239.69L285.27 239.79L286.24 239.77L287.20 239.97L288.17 239.98L289.14 240.08L290.10 240.21L291.07 240.26L292.03 240.34L293.00 240.40L293.96 240.38L294.93 240.56L295.89 240.58L296.86 240.62L297.82 240.76L298.79 240.74L299.75 240.83L300.72 240.94L301.68 240.90L302.65 241.00L303.61 241.11L304.58 241.07L305.54 241.14L306.51 241.26L307.47 241.26L308.44 241.24L308.63 241.34L308.82 241.36L309.00 241.33L309.19 241.38L309.38 241.37L309.57 241.38L309.76 241.42L309.95 241.37L310.13 241.36L310.32 241.45L310.51 241.36L310.70 241.42L310.89 241.46L311.52 241.50L312.14 241.52L312.77 241.51L313.40 241.48L314.03 241.56L314.66 241.51L315.28 241.59L315.91 241.64L316.54 241.69L317.17 241.72L317.79 241.75L318.42 241.77L319.05 241.78L319.68 241.79L320.31 241.80L320.93 241.81L321.56 241.82L322.19 241.83L322.82 241.84L323.45 241.86L324.07 241.89L324.70 241.92L325.33 241.95L325.96 241.98L326.58 242.00L327.21 242.02L327.84 242.02L328.47 242.01L329.10 241.96L329.72 242.03L330.35 242.05L330.98 242.10L331.61 242.08L332.24 241.96L332.86 242.11L333.49 242.13L334.12 241.97L334.75 242.16L335.38 242.06L336.00 242.18L336.63 242.04L337.26 242.19L337.89 242.17L338.51 242.04L339.14 242.14L339.77 242.19L340.40 242.20L341.03 242.19L341.65 242.15L342.28 242.03L342.91 242.24L343.54 242.16L344.17 242.25L344.79 242.07L345.42 242.18L346.05 242.22L346.68 242.22L347.30 242.19L347.93 242.08L348.56 242.25L349.19 242.17L349.82 242.24L350.44 242.05L351.07 242.17L351.70 242.21L352.33 242.21L352.96 242.20L353.58 242.16L354.21 242.08L354.84 242.16L355.47 242.19L356.10 242.08L356.72 242.17L357.35 242.10L357.98 242.15L358.61 242.03L359.23 242.14L359.86 242.08L360.49 242.01L361.12 242.10L361.75 242.09L362.37 242.04L363.00 241.93L363.63 242.00L364.26 242.03L364.89 242.03L365.51 242.02L366.14 241.99L366.77 241.95L367.40 241.91L368.02 241.90L368.65 241.91L369.28 241.90L369.91 241.88L370.54 241.86L371.16 241.84L371.79 241.80L372.42 241.75L373.05 241.75L373.68 241.75L374.30 241.75L374.93 241.74L375.56 241.72L376.19 241.70L376.81 241.67L377.44 241.63L378.07 241.57L378.70 241.50L379.33 241.54L379.95 241.46L380.58 241.49L381.21 241.49L381.84 241.47L382.47 241.44L383.09 241.38L383.72 241.29L384.35 241.32L384.98 241.25L385.61 241.28L386.23 241.26L386.86 241.22L387.49 241.15L388.12 241.05L388.74 241.10L389.37 241.06L390.00 241.06L390.63 241.02L391.26 240.95L391.88 240.84L392.51 240.87L393.14 240.84L393.77 240.83L394.40 240.79L395.02 240.70L395.65 240.65L396.28 240.60L396.91 240.62L397.53 240.59L398.16 240.52L398.79 240.39L399.42 240.40L400.05 240.38L400.67 240.36L401.30 240.30L401.93 240.18L402.56 240.19L403.19 240.13L403.81 240.12L404.44 240.05L405.07 239.94L405.70 239.93L406.33 239.87L406.95 239.86L407.58 239.78L408.21 239.66L408.84 239.65L409.46 239.60L410.09 239.57L410.72 239.49L411.35 239.35L411.98 239.29L412.60 239.31L413.23 239.27L413.86 239.17L414.49 239.04L415.12 239.00L415.74 239.00L416.37 238.94L417.00 238.82L417.63 238.78L418.25 238.69L418.88 238.66L419.51 238.58L420.14 238.43L420.77 238.35L421.39 238.35L422.02 238.29L422.65 238.18L423.28 238.09L423.91 238.00L424.53 237.98L425.16 237.89L425.79 237.74L426.42 237.69L427.05 237.62L427.67 237.56L428.30 237.44L428.93 237.32L429.56 237.23L430.18 237.20L430.81 237.10L431.44 236.94L432.07 236.87L432.70 236.81L433.32 236.73L433.95 236.59L434.58 236.49L435.21 236.38L435.84 236.33L436.46 236.21L437.09 236.03L437.72 235.91L438.35 235.89L438.97 235.79L439.60 235.63L440.23 235.54L440.86 235.41L441.49 235.34L442.11 235.19L442.74 234.98L443.37 234.91L444.00 234.85L444.63 234.72L445.25 234.53L445.88 234.41L446.51 234.32L447.14 234.21L447.76 234.04L448.39 233.92L449.02 233.76L449.65 233.67L450.28 233.50L450.90 233.27L451.53 233.16L452.16 233.08L452.79 232.93L453.42 232.71L454.04 232.55L454.67 232.46L455.30 232.31L455.93 232.11L456.56 231.97L457.18 231.79L457.81 231.66L458.44 231.46L459.07 231.25L459.69 231.07L460.32 230.95L460.95 230.76L461.58 230.50L462.21 230.31L462.83 230.20L463.46 230.01L464.09 229.76L464.72 229.58L465.35 229.39L465.97 229.21L466.60 228.97L467.23 228.76L467.86 228.53L468.48 228.35L469.11 228.11L469.74 227.82L470.37 227.61L471.00 227.43L471.62 227.19L472.25 226.87L472.88 226.62L473.51 226.45L474.14 226.20L474.76 225.88L475.39 225.63L476.02 225.38L476.65 225.13L477.28 224.81L477.90 224.54L478.53 224.24L479.16 223.98L479.79 223.65L480.41 223.33L481.04 223.00L481.67 222.73L482.30 222.40L482.93 221.98L483.55 221.66L484.18 221.38L484.81 221.03L485.44 220.60L486.07 220.20L486.69 219.90L487.32 219.53L487.95 219.09L488.58 218.69L489.20 218.28L489.83 217.88L490.46 217.41L491.09 216.97L491.72 216.50L492.34 216.06L492.97 215.55L493.60 215.04L494.23 214.50L494.86 214.02L495.48 213.47L496.11 212.82L496.74 212.25L497.37 211.70L498.00 211.08L498.62 210.36L498.86 210.15L499.10 209.91L499.34 209.64L499.57 209.34L499.81 209.00L500.05 208.78L500.28 208.50L500.52 208.24L500.76 207.95L501.00 207.63L501.23 207.27L501.47 206.99L501.71 206.63L501.95 206.34L502.18 206.00L502.42 205.36L502.66 204.57L502.90 203.66L503.13 202.84L503.37 201.84L503.61 200.75L503.84 199.59L504.08 198.37L504.32 197.09L504.56 195.86L504.79 194.59L505.03 193.24L505.27 191.83L505.51 190.37L505.74 188.88L505.98 187.35L506.22 185.95L506.46 184.43L506.69 182.87L506.93 181.26L507.17 179.63L507.41 177.97L507.64 176.38L507.88 174.78L508.12 173.11L508.35 171.42L508.59 169.70L508.83 167.95L509.07 166.19L509.30 164.56L509.54 162.85L509.78 161.10L510.02 159.33L510.25 157.54L510.49 155.74L510.73 154.00L510.97 152.29L511.20 150.53L511.44 148.74L511.68 146.93L511.91 145.12L512.15 143.30L512.39 141.62L512.63 139.87L512.86 138.10L513.10 136.31L513.34 134.52L513.58 132.72L513.81 130.98L514.05 129.30L514.29 127.57L514.53 125.83L514.76 124.08L515.00 122.33L515.24 120.58L515.48 118.97L515.71 117.32L515.95 115.64L516.19 113.97L516.42 112.29L516.66 110.62L516.90 109.01L517.14 107.49L517.37 105.91L517.61 104.33L517.85 102.76L518.09 101.20L518.32 99.65L518.56 98.23L518.80 96.79L519.04 95.35L519.27 93.91L519.51 92.48L519.75 91.07L519.98 89.68L520.22 88.47L520.46 87.19L520.70 85.92L520.93 84.67L521.17 83.43L521.41 82.23L521.65 81.16L521.88 80.10L522.12 79.04L522.36 78.00L522.60 77.00L522.83 76.03L523.07 75.11L523.31 74.37L523.55 73.60L523.78 72.86L524.02 72.18L524.26 71.55L524.49 70.99L524.73 70.61L524.97 70.31L525.21 70.15L525.44 70.15L525.68 70.15L525.92 70.15L526.16 70.15L526.39 70.15L526.63 70.15L526.87 70.15L529.23 70.15L531.60 70.15L533.97 70.15L536.33 70.15L538.70 70.15L541.06 70.15L543.43 70.15L545.79 70.15L548.16 70.15L550.53 70.15L552.89 70.15L555.26 70.15L557.62 70.15L559.99 70.15L562.36 70.15L564.72 70.15L567.09 70.15L569.45 70.15L571.82 70.15L574.18 70.15L576.55 70.15L578.92 70.15L581.28 70.15L583.65 70.15L586.01 70.15L588.38 70.15L590.75 70.15L593.11 70.15L595.48 70.15L597.84 70.15L600.21 70.15L602.57 70.15L604.94 70.15L607.31 70.15L609.67 70.15L612.04 70.15L614.40 70.15L616.77 70.15L619.13 70.15L619.48 70.15L619.83 70.15L620.18 70.15L620.52 70.15L620.87 70.15L621.22 70.15L621.56 70.15L621.91 70.15L622.26 70.15L622.60 70.15L622.95 70.15L623.30 70.15L623.64 70.15L623.99 70.15L624.34 70.15L624.68 70.15L625.03 70.15L625.38 70.15L625.73 70.15L631.14 70.15L636.55 70.15L641.97 70.15L647.38 70.15" fill="none" stroke="#f00" stroke-width="1.55" stroke-dasharray="3.9 1.65" stroke-dashoffset="1.55"/>
<rect x="261.37" y="234.49" width="169.47" height="13.28" fill="none" stroke="#505050" stroke-width="1"/>
<line x1="247.30" y1="139.10" x2="261.37" y2="247.77" stroke="#505050" stroke-width="1"/>
<line x1="480.40" y1="139.10" x2="430.84" y2="247.77" stroke="#505050" stroke-width="1"/>
</g>
<rect x="54.60" y="2.70" width="582.90" height="302.90" fill="none" stroke="#6a6a6a" stroke-width="1.2"/>
<path d="M63.65 305.60V308.60M157.80 305.60V308.60M251.95 305.60V308.60M346.10 305.60V308.60M440.25 305.60V308.60M534.40 305.60V308.60M628.55 305.60V308.60M54.50 269.35H51.50M54.50 202.95H51.50M54.50 136.55H51.50M54.50 70.15H51.50M54.50 3.75H51.50" stroke="#6a6a6a" stroke-width="1"/>
<rect x="53.70" y="314.75" width="7.0" height="0.95" fill="#000"/>
<text x="61.30" y="319" font-size="11.8">15</text>
<rect x="147.85" y="314.75" width="7.0" height="0.95" fill="#000"/>
<text x="155.45" y="319" font-size="11.8">10</text>
<rect x="245.15" y="314.75" width="6.8" height="0.95" fill="#000"/>
<text x="253.15" y="319" font-size="11.8">5</text>
<text x="346.10" y="319" font-size="11.8" text-anchor="middle">0</text>
<text x="440.25" y="319" font-size="11.8" text-anchor="middle">5</text>
<text x="534.40" y="319" font-size="11.8" text-anchor="middle">10</text>
<text x="628.55" y="319" font-size="11.8" text-anchor="middle">15</text>
<text x="49.6" y="273.95" font-size="11.8" text-anchor="end" textLength="29.6" lengthAdjust="spacingAndGlyphs">0.994</text>
<text x="49.6" y="207.55" font-size="11.8" text-anchor="end" textLength="29.6" lengthAdjust="spacingAndGlyphs">0.996</text>
<text x="49.6" y="141.15" font-size="11.8" text-anchor="end" textLength="29.6" lengthAdjust="spacingAndGlyphs">0.998</text>
<text x="49.6" y="74.75" font-size="11.8" text-anchor="end" textLength="29.6" lengthAdjust="spacingAndGlyphs">1.000</text>
<text x="49.6" y="8.35" font-size="11.8" text-anchor="end" textLength="29.6" lengthAdjust="spacingAndGlyphs">1.002</text>
<text x="345.6" y="336.1" font-size="16.8" text-anchor="middle" textLength="235" lengthAdjust="spacingAndGlyphs">Time from mid-transit (hrs)</text>
<text transform="translate(13.2,153.5) rotate(-90)" font-size="16" text-anchor="middle" textLength="135" lengthAdjust="spacingAndGlyphs">Normalized flux</text>
<circle cx="73.2" cy="248.5" r="1.9" fill="#fff" stroke="#000" stroke-width="1"/>
<line x1="63" y1="262.6" x2="83" y2="262.6" stroke="#000" stroke-width="1.25" stroke-dasharray="6.7 1.7 1.05 1.7"/>
<line x1="63" y1="276.8" x2="83" y2="276.8" stroke="#000" stroke-width="1.25"/>
<line x1="63" y1="291.1" x2="83" y2="291.1" stroke="#f00" stroke-width="1.3" stroke-dasharray="3.8 1.75"/>
<text x="91.0" y="252.2" font-size="10.4" lengthAdjust="spacingAndGlyphs" textLength="118.6">HST WFC3 (Alam+2022)</text>
<text x="91.0" y="266.4" font-size="10.4" lengthAdjust="spacingAndGlyphs" textLength="90.0">Planet + satellite (</text>
<text x="181.6" y="266.4" font-size="10.4" lengthAdjust="spacingAndGlyphs" textLength="5.6">1</text>
<text x="187.0" y="266.4" font-size="10.4" lengthAdjust="spacingAndGlyphs" font-style="italic" textLength="7.4">R</text>
<circle cx="198.3" cy="266.0" r="2.0" fill="#505050"/>
<text x="203.0" y="266.4" font-size="10.4" lengthAdjust="spacingAndGlyphs">)</text>
<text x="91.0" y="280.8" font-size="10.4" lengthAdjust="spacingAndGlyphs" textLength="90.0">Planet + satellite (</text>
<text x="181.2" y="280.8" font-size="10.4" lengthAdjust="spacingAndGlyphs" textLength="22.2">0.53</text>
<text x="203.6" y="280.8" font-size="10.4" lengthAdjust="spacingAndGlyphs" font-style="italic" textLength="7.4">R</text>
<circle cx="214.6" cy="280.5" r="2.0" fill="#505050"/>
<text x="218.0" y="280.8" font-size="10.4" lengthAdjust="spacingAndGlyphs">)</text>
<text x="91.0" y="295.0" font-size="10.4" lengthAdjust="spacingAndGlyphs" textLength="53.6">Planet only</text>
<rect x="247.30" y="18.10" width="233.10" height="121.00" fill="#fff"/>
<g clip-path="url(#ic)">
<g stroke="#808080" stroke-opacity="0.5" stroke-width="1.6">
<line x1="274.8" y1="-232.1" x2="274.8" y2="70.1"/>
<line x1="274.0" y1="-110.2" x2="274.0" y2="192.0"/>
<line x1="273.2" y1="-22.8" x2="273.2" y2="279.4"/>
<line x1="276.6" y1="4.5" x2="276.6" y2="306.7"/>
<line x1="301.1" y1="-235.8" x2="301.1" y2="66.4"/>
<line x1="312.4" y1="-282.2" x2="312.4" y2="20.0"/>
<line x1="313.6" y1="-203.9" x2="313.6" y2="98.3"/>
<line x1="306.4" y1="-159.3" x2="306.4" y2="142.9"/>
<line x1="303.8" y1="-144.7" x2="303.8" y2="157.5"/>
<line x1="302.2" y1="-104.7" x2="302.2" y2="197.5"/>
<line x1="317.7" y1="-107.4" x2="317.7" y2="194.8"/>
<line x1="309.9" y1="-93.8" x2="309.9" y2="208.4"/>
<line x1="312.2" y1="-76.5" x2="312.2" y2="225.7"/>
<line x1="315.1" y1="-41.9" x2="315.1" y2="260.3"/>
<line x1="303.0" y1="-36.4" x2="303.0" y2="265.8"/>
<line x1="310.8" y1="-8.2" x2="310.8" y2="294.0"/>
<line x1="316.8" y1="6.4" x2="316.8" y2="308.6"/>
<line x1="308.2" y1="20.9" x2="308.2" y2="323.1"/>
<line x1="303.8" y1="26.4" x2="303.8" y2="328.6"/>
<line x1="313.6" y1="20.9" x2="313.6" y2="323.1"/>
<line x1="304.8" y1="60.1" x2="304.8" y2="362.3"/>
<line x1="310.8" y1="60.1" x2="310.8" y2="362.3"/>
<line x1="316.3" y1="93.7" x2="316.3" y2="395.9"/>
<line x1="347.8" y1="-264.9" x2="347.8" y2="37.3"/>
<line x1="354.3" y1="-266.7" x2="354.3" y2="35.5"/>
<line x1="351.3" y1="-247.6" x2="351.3" y2="54.6"/>
<line x1="347.0" y1="-219.4" x2="347.0" y2="82.8"/>
<line x1="358.2" y1="-228.5" x2="358.2" y2="73.7"/>
<line x1="354.7" y1="-196.6" x2="354.7" y2="105.6"/>
<line x1="348.7" y1="-156.6" x2="348.7" y2="145.6"/>
<line x1="353.9" y1="-164.8" x2="353.9" y2="137.4"/>
<line x1="359.1" y1="-159.3" x2="359.1" y2="142.9"/>
<line x1="343.6" y1="-95.6" x2="343.6" y2="206.6"/>
<line x1="349.6" y1="-93.8" x2="349.6" y2="208.4"/>
<line x1="352.1" y1="-76.5" x2="352.1" y2="225.7"/>
<line x1="342.8" y1="-36.4" x2="342.8" y2="265.8"/>
<line x1="347.8" y1="-31.0" x2="347.8" y2="271.2"/>
<line x1="357.1" y1="-25.5" x2="357.1" y2="276.7"/>
<line x1="345.2" y1="-8.2" x2="345.2" y2="294.0"/>
<line x1="351.3" y1="22.7" x2="351.3" y2="324.9"/>
<line x1="356.1" y1="19.1" x2="356.1" y2="321.3"/>
<line x1="355.3" y1="85.5" x2="355.3" y2="387.7"/>
<line x1="344.4" y1="128.3" x2="344.4" y2="430.5"/>
<line x1="383.2" y1="-178.4" x2="383.2" y2="123.8"/>
<line x1="395.6" y1="-281.3" x2="395.6" y2="20.9"/>
<line x1="399.8" y1="-274.0" x2="399.8" y2="28.2"/>
<line x1="393.5" y1="-156.6" x2="393.5" y2="145.6"/>
<line x1="394.1" y1="-129.3" x2="394.1" y2="172.9"/>
<line x1="396.7" y1="-110.2" x2="396.7" y2="192.0"/>
<line x1="391.6" y1="-31.9" x2="391.6" y2="270.3"/>
<line x1="392.8" y1="31.8" x2="392.8" y2="334.0"/>
<line x1="398.7" y1="50.0" x2="398.7" y2="352.2"/>
<line x1="396.7" y1="76.4" x2="396.7" y2="378.6"/>
<line x1="423.9" y1="-87.4" x2="423.9" y2="214.8"/>
<line x1="423.5" y1="-9.1" x2="423.5" y2="293.1"/>
<line x1="439.9" y1="-235.8" x2="439.9" y2="66.4"/>
<line x1="440.1" y1="-206.6" x2="440.1" y2="95.6"/>
<line x1="438.9" y1="7.3" x2="438.9" y2="309.5"/>
<line x1="438.1" y1="30.9" x2="438.1" y2="333.1"/>
<line x1="441.2" y1="61.0" x2="441.2" y2="363.2"/>
<line x1="437.8" y1="115.6" x2="437.8" y2="417.8"/>
<line x1="481.3" y1="-206.6" x2="481.3" y2="95.6"/>
<line x1="482.1" y1="79.2" x2="482.1" y2="381.4"/>
</g>
<rect x="247.30" y="88.3" width="233.10" height="5.0" fill="#00bfbf" fill-opacity="0.5"/>
<rect x="252" y="97.4" width="44" height="16.5" fill="#fff"/>
<text x="255.2" y="108.7" font-size="10.2" fill="#00bfbf" style="fill:#00bfbf" textLength="37.2" lengthAdjust="spacingAndGlyphs">14 ppm</text>
<g fill="#fff" stroke="#000" stroke-width="1.05">
<circle cx="273.6" cy="41.6" r="1.95"/>
<circle cx="302.1" cy="45.1" r="1.95"/>
<circle cx="317.5" cy="42.3" r="1.95"/>
<circle cx="301.4" cy="65.7" r="1.95"/>
<circle cx="308.7" cy="60.3" r="1.95"/>
<circle cx="311.5" cy="67.8" r="1.95"/>
<circle cx="302.4" cy="114.9" r="1.95"/>
<circle cx="314.6" cy="108.3" r="1.95"/>
<circle cx="272.9" cy="127.2" r="1.95"/>
<circle cx="275.5" cy="136.8" r="1.95"/>
<circle cx="394.4" cy="25.3" r="1.95"/>
<circle cx="396.2" cy="41.3" r="1.95"/>
<circle cx="343.2" cy="56.7" r="1.95"/>
<circle cx="349.8" cy="57.1" r="1.95"/>
<circle cx="352.6" cy="74.1" r="1.95"/>
<circle cx="350.7" cy="95.9" r="1.95"/>
<circle cx="398.0" cy="86.1" r="1.95"/>
<circle cx="344.3" cy="140.5" r="1.95"/>
<circle cx="342.5" cy="101.4" r="1.95"/>
<circle cx="347.2" cy="119.5" r="1.95"/>
<circle cx="356.5" cy="129.2" r="1.95"/>
<circle cx="391.0" cy="112.2" r="1.95"/>
<circle cx="423.6" cy="65.9" r="1.95"/>
</g>
<path d="M244.66 38.23L245.26 38.83L245.85 39.43L246.45 40.02L247.05 40.60L247.65 41.19L248.24 41.76L248.84 42.34L249.44 42.90L250.03 43.47L250.63 44.03L251.23 44.58L251.83 45.13L252.42 45.67L253.02 46.21L253.62 46.75L254.22 47.28L254.81 47.81L255.41 48.33L256.01 48.85L256.60 49.37L257.20 49.88L257.80 50.38L258.40 50.88L258.99 51.38L259.59 51.87L260.19 52.36L260.78 52.85L261.38 53.33L261.98 53.81L262.58 54.28L263.17 54.75L263.77 55.21L264.37 55.67L264.96 56.13L265.56 56.58L266.16 57.03L266.76 57.47L267.35 57.91L267.95 58.35L268.55 58.78L269.14 59.21L269.74 59.64L270.34 60.06L270.94 60.47L271.53 60.89L272.13 61.30L272.73 61.70L273.33 62.11L273.92 62.51L274.52 62.90L275.12 63.29L275.71 63.68L276.31 64.06L276.91 64.44L277.51 64.82L278.10 65.19L278.70 65.56L279.30 65.93L279.89 66.29L280.49 66.65L281.09 67.01L281.69 67.36L282.28 67.71L282.88 68.06L283.48 68.40L284.07 68.74L284.67 69.07L285.27 69.40L285.87 69.73L286.46 70.06L287.06 70.38L287.66 70.70L288.26 71.01L288.85 71.33L289.45 71.64L290.05 71.94L290.64 72.24L291.24 72.54L291.84 72.84L292.44 73.13L293.03 73.42L293.63 73.71L294.23 73.99L294.82 74.27L295.42 74.55L296.02 74.83L296.62 75.10L297.21 75.37L297.81 75.63L298.41 75.89L299.00 76.15L299.60 76.41L300.20 76.66L300.80 76.91L301.39 77.16L301.99 77.41L302.59 77.65L303.18 77.89L303.78 78.12L304.38 78.36L304.98 78.59L305.57 78.81L306.17 79.04L306.77 79.26L307.37 79.48L307.96 79.70L308.56 79.91L309.16 80.12L309.75 80.33L310.35 80.53L310.95 80.74L311.55 80.94L312.14 81.13L312.74 81.33L312.78 81.34L312.98 81.90L313.18 83.27L313.34 84.34L313.39 84.69L313.59 86.12L313.79 87.52L313.93 88.46L314.00 88.87L314.20 90.14L314.41 91.29L314.53 91.93L314.61 92.29L314.81 93.11L315.02 93.71L315.13 93.94L315.22 94.06L315.42 94.20L315.63 94.30L315.73 94.35L316.32 94.64L316.92 94.91L317.52 95.16L318.11 95.39L318.71 95.61L319.31 95.82L319.91 96.02L320.50 96.21L321.10 96.40L321.70 96.59L322.30 96.78L322.89 96.97L323.49 97.17L324.09 97.37L324.68 97.58L325.28 97.78L325.88 97.98L326.48 98.18L327.07 98.37L327.67 98.57L328.27 98.76L328.86 98.95L329.46 99.14L330.06 99.33L330.66 99.52L331.25 99.70L331.85 99.88L332.45 100.05L333.04 100.23L333.64 100.40L334.24 100.56L334.84 100.73L335.43 100.89L336.03 101.04L336.63 101.20L337.22 101.35L337.82 101.49L338.42 101.63L339.02 101.77L339.61 101.90L340.21 102.02L340.81 102.15L341.41 102.26L342.00 102.37L342.60 102.48L343.20 102.59L343.79 102.69L344.39 102.79L344.99 102.89L345.59 102.98L346.18 103.07L346.78 103.16L347.38 103.25L347.97 103.33L348.57 103.41L349.17 103.49L349.77 103.57L350.36 103.64L350.96 103.71L351.56 103.78L352.15 103.84L352.75 103.91L353.35 103.97L353.95 104.02L354.54 104.08L355.14 104.13L355.74 104.17L356.34 104.22L356.93 104.26L357.53 104.30L358.13 104.34L358.72 104.37L359.32 104.40L359.92 104.43L360.52 104.46L361.11 104.48L361.71 104.50L362.31 104.51L362.90 104.53L363.50 104.54L364.10 104.54L364.70 104.55L365.29 104.55L365.89 104.55L366.49 104.54L367.08 104.53L367.68 104.52L368.28 104.51L368.88 104.50L369.47 104.48L370.07 104.46L370.67 104.44L371.26 104.41L371.86 104.39L372.46 104.36L373.06 104.32L373.65 104.29L374.25 104.25L374.85 104.21L375.45 104.17L376.04 104.13L376.64 104.08L377.24 104.03L377.83 103.98L378.43 103.93L379.03 103.87L379.63 103.82L380.22 103.76L380.82 103.70L381.42 103.63L382.01 103.56L382.61 103.50L383.21 103.42L383.81 103.35L384.40 103.28L385.00 103.20L385.60 103.12L386.19 103.04L386.79 102.95L387.39 102.86L387.99 102.78L388.58 102.69L389.18 102.59L389.78 102.50L390.38 102.40L390.97 102.30L391.57 102.20L392.17 102.10L392.76 101.99L393.36 101.88L393.96 101.77L394.56 101.66L395.15 101.55L395.75 101.43L396.35 101.32L396.94 101.20L397.54 101.07L398.14 100.95L398.74 100.82L399.33 100.70L399.93 100.57L400.53 100.43L401.12 100.30L401.72 100.16L402.32 100.03L402.92 99.89L403.51 99.75L404.11 99.60L404.71 99.46L405.30 99.31L405.90 99.16L406.50 99.01L407.10 98.86L407.69 98.70L408.29 98.55L408.89 98.40L409.49 98.25L410.08 98.10L410.68 97.95L411.28 97.80L411.87 97.64L412.47 97.49L413.07 97.33L413.67 97.18L414.26 97.02L414.86 96.85L415.46 96.69L416.05 96.52L416.65 96.36L417.25 96.18L417.85 96.01L418.44 95.83L419.04 95.64L419.64 95.46L420.23 95.27L420.83 95.08L421.43 94.89L422.03 94.70L422.62 94.51L423.22 94.31L423.82 94.11L424.42 93.91L425.01 93.71L425.61 93.50L426.21 93.30L426.80 93.09L427.40 92.87L428.00 92.66L428.60 92.44L429.19 92.21L429.79 91.99L430.39 91.76L430.98 91.52L431.58 91.29L432.18 91.05L432.78 90.80L433.37 90.55L433.97 90.30L434.57 90.04L435.16 89.78L435.76 89.52L436.36 89.25L436.96 88.98L437.55 88.70L438.15 88.41L438.75 88.13L439.34 87.84L439.94 87.55L440.54 87.26L441.14 86.96L441.73 86.66L442.33 86.36L442.93 86.05L443.53 85.74L444.12 85.43L444.72 85.11L445.32 84.79L445.91 84.47L446.51 84.15L447.11 83.82L447.71 83.48L448.30 83.15L448.90 82.81L449.50 82.47L450.09 82.12L450.69 81.77L451.29 81.42L451.89 81.07L452.48 80.71L453.08 80.34L453.68 79.98L454.27 79.61L454.87 79.23L455.47 78.86L456.07 78.48L456.66 78.09L457.26 77.70L457.86 77.31L458.46 76.92L459.05 76.52L459.65 76.12L460.25 75.71L460.84 75.30L461.44 74.88L462.04 74.47L462.64 74.04L463.23 73.62L463.83 73.19L464.43 72.75L465.02 72.32L465.62 71.87L466.22 71.43L466.82 70.98L467.41 70.52L468.01 70.07L468.61 69.60L469.20 69.14L469.80 68.67L470.40 68.19L471.00 67.71L471.59 67.23L472.19 66.74L472.79 66.25L473.38 65.75L473.98 65.25L474.58 64.75L475.18 64.24L475.77 63.72L476.37 63.20L476.97 62.68L477.57 62.15L478.16 61.62L478.76 61.08L479.36 60.54L479.95 59.99L480.55 59.44L481.15 58.89L481.75 58.33L482.34 57.76L482.94 57.19" fill="none" stroke="#000" stroke-width="1.45" stroke-dasharray="6.7 1.8 1.1 1.8"/>
<path d="M244.66 38.23L245.26 38.83L245.85 39.43L246.45 40.02L247.05 40.60L247.65 41.19L248.24 41.76L248.84 42.34L249.44 42.90L250.03 43.47L250.63 44.03L251.23 44.58L251.83 45.13L252.42 45.67L253.02 46.21L253.62 46.75L254.22 47.28L254.81 47.81L255.41 48.33L256.01 48.85L256.60 49.37L257.20 49.88L257.80 50.38L258.40 50.88L258.99 51.38L259.59 51.87L260.19 52.36L260.78 52.85L261.38 53.33L261.98 53.81L262.58 54.28L263.17 54.75L263.77 55.21L264.37 55.67L264.96 56.13L265.56 56.58L266.16 57.03L266.76 57.47L267.35 57.91L267.95 58.35L268.55 58.78L269.14 59.21L269.74 59.64L270.34 60.06L270.94 60.47L271.53 60.89L272.13 61.30L272.73 61.70L273.33 62.11L273.92 62.51L274.52 62.90L275.12 63.29L275.71 63.68L276.31 64.06L276.91 64.44L277.51 64.82L278.10 65.19L278.70 65.56L279.30 65.93L279.89 66.29L280.49 66.65L281.09 67.01L281.69 67.36L282.28 67.71L282.88 68.06L283.48 68.40L284.07 68.74L284.67 69.07L285.27 69.40L285.87 69.73L286.46 70.06L287.06 70.38L287.66 70.70L288.26 71.01L288.85 71.33L289.45 71.64L290.05 71.94L290.64 72.24L291.24 72.54L291.84 72.84L292.44 73.13L293.03 73.42L293.63 73.71L294.23 73.99L294.82 74.27L295.42 74.55L296.02 74.83L296.62 75.10L297.21 75.37L297.81 75.63L298.41 75.89L299.00 76.15L299.60 76.41L300.20 76.66L300.80 76.91L301.39 77.16L301.99 77.41L302.59 77.65L303.18 77.89L303.78 78.12L304.38 78.36L304.98 78.59L305.57 78.81L306.17 79.04L306.77 79.26L307.37 79.48L307.96 79.70L308.56 79.91L309.16 80.12L309.75 80.33L310.35 80.53L310.95 80.74L311.55 80.94L312.14 81.13L312.74 81.33L312.78 81.34L312.98 81.56L313.18 82.02L313.34 82.37L313.39 82.49L313.59 82.97L313.79 83.44L313.93 83.75L314.00 83.89L314.20 84.32L314.41 84.71L314.53 84.93L314.61 85.05L314.81 85.34L315.02 85.56L315.13 85.65L315.22 85.70L315.42 85.77L315.63 85.83L315.73 85.86L316.32 86.04L316.92 86.21L317.52 86.39L318.11 86.56L318.71 86.73L319.31 86.89L319.91 87.06L320.50 87.22L321.10 87.37L321.70 87.53L322.30 87.68L322.89 87.83L323.49 87.98L324.09 88.13L324.68 88.27L325.28 88.41L325.88 88.55L326.48 88.69L327.07 88.82L327.67 88.95L328.27 89.08L328.86 89.21L329.46 89.34L330.06 89.46L330.66 89.58L331.25 89.70L331.85 89.82L332.45 89.93L333.04 90.05L333.64 90.16L334.24 90.27L334.84 90.37L335.43 90.48L336.03 90.58L336.63 90.68L337.22 90.77L337.82 90.87L338.42 90.96L339.02 91.05L339.61 91.14L340.21 91.23L340.81 91.31L341.41 91.39L342.00 91.47L342.60 91.55L343.20 91.63L343.79 91.70L344.39 91.78L344.99 91.85L345.59 91.92L346.18 91.99L346.78 92.06L347.38 92.13L347.97 92.19L348.57 92.26L349.17 92.32L349.77 92.38L350.36 92.44L350.96 92.49L351.56 92.55L352.15 92.60L352.75 92.65L353.35 92.70L353.95 92.74L354.54 92.79L355.14 92.83L355.74 92.87L356.34 92.91L356.93 92.94L357.53 92.98L358.13 93.01L358.72 93.03L359.32 93.06L359.92 93.08L360.52 93.10L361.11 93.12L361.71 93.13L362.31 93.14L362.90 93.15L363.50 93.16L364.10 93.16L364.70 93.16L365.29 93.15L365.89 93.15L366.49 93.14L367.08 93.13L367.68 93.11L368.28 93.09L368.88 93.08L369.47 93.05L370.07 93.03L370.67 93.01L371.26 92.98L371.86 92.95L372.46 92.91L373.06 92.88L373.65 92.84L374.25 92.80L374.85 92.76L375.45 92.72L376.04 92.67L376.64 92.62L377.24 92.57L377.83 92.52L378.43 92.47L379.03 92.41L379.63 92.35L380.22 92.29L380.82 92.23L381.42 92.16L382.01 92.09L382.61 92.02L383.21 91.95L383.81 91.88L384.40 91.80L385.00 91.72L385.60 91.64L386.19 91.55L386.79 91.47L387.39 91.38L387.99 91.29L388.58 91.20L389.18 91.10L389.78 91.01L390.38 90.91L390.97 90.81L391.57 90.71L392.17 90.60L392.76 90.49L393.36 90.38L393.96 90.27L394.56 90.16L395.15 90.04L395.75 89.92L396.35 89.80L396.94 89.68L397.54 89.55L398.14 89.42L398.74 89.30L399.33 89.16L399.93 89.03L400.53 88.89L401.12 88.75L401.72 88.61L402.32 88.47L402.92 88.33L403.51 88.18L404.11 88.03L404.71 87.88L405.30 87.72L405.90 87.57L406.50 87.41L407.10 87.25L407.69 87.08L408.29 86.92L408.89 86.75L409.49 86.58L410.08 86.41L410.68 86.23L411.28 86.05L411.87 85.88L412.47 85.69L413.07 85.51L413.67 85.32L414.26 85.13L414.86 84.94L415.46 84.75L416.05 84.55L416.65 84.36L417.25 84.15L417.85 83.95L418.44 83.75L419.04 83.54L419.64 83.33L420.23 83.12L420.83 82.90L421.43 82.69L422.03 82.47L422.62 82.25L423.22 82.03L423.82 81.80L424.42 81.58L425.01 81.35L425.61 81.11L426.21 80.88L426.80 80.64L427.40 80.40L428.00 80.16L428.60 79.92L429.19 79.67L429.79 79.42L430.39 79.17L430.98 78.91L431.58 78.65L432.18 78.39L432.78 78.12L433.37 77.86L433.97 77.59L434.57 77.31L435.16 77.03L435.76 76.75L436.36 76.47L436.96 76.18L437.55 75.89L438.15 75.60L438.75 75.30L439.34 75.00L439.94 74.70L440.54 74.39L441.14 74.09L441.73 73.77L442.33 73.46L442.93 73.14L443.53 72.82L444.12 72.50L444.72 72.17L445.32 71.84L445.91 71.51L446.51 71.17L447.11 70.83L447.71 70.49L448.30 70.15L448.90 69.80L449.50 69.45L450.09 69.09L450.69 68.73L451.29 68.37L451.89 68.01L452.48 67.64L453.08 67.27L453.68 66.89L454.27 66.51L454.87 66.13L455.47 65.75L456.07 65.36L456.66 64.96L457.26 64.57L457.86 64.17L458.46 63.77L459.05 63.36L459.65 62.95L460.25 62.54L460.84 62.12L461.44 61.70L462.04 61.27L462.64 60.84L463.23 60.41L463.83 59.98L464.43 59.54L465.02 59.09L465.62 58.65L466.22 58.19L466.82 57.74L467.41 57.28L468.01 56.82L468.61 56.35L469.20 55.88L469.80 55.40L470.40 54.92L471.00 54.44L471.59 53.95L472.19 53.46L472.79 52.97L473.38 52.47L473.98 51.97L474.58 51.46L475.18 50.95L475.77 50.43L476.37 49.91L476.97 49.38L477.57 48.85L478.16 48.32L478.76 47.78L479.36 47.24L479.95 46.69L480.55 46.14L481.15 45.59L481.75 45.03L482.34 44.46L482.94 43.89" fill="none" stroke="#000" stroke-width="1.5"/>
<path d="M244.66 38.23L245.26 38.83L245.85 39.43L246.45 40.02L247.05 40.60L247.65 41.19L248.24 41.76L248.84 42.34L249.44 42.90L250.03 43.47L250.63 44.03L251.23 44.58L251.83 45.13L252.42 45.67L253.02 46.21L253.62 46.75L254.22 47.28L254.81 47.81L255.41 48.33L256.01 48.85L256.60 49.37L257.20 49.88L257.80 50.38L258.40 50.88L258.99 51.38L259.59 51.87L260.19 52.36L260.78 52.85L261.38 53.33L261.98 53.81L262.58 54.28L263.17 54.75L263.77 55.21L264.37 55.67L264.96 56.13L265.56 56.58L266.16 57.03L266.76 57.47L267.35 57.91L267.95 58.35L268.55 58.78L269.14 59.21L269.74 59.64L270.34 60.06L270.94 60.47L271.53 60.89L272.13 61.30L272.73 61.70L273.33 62.11L273.92 62.51L274.52 62.90L275.12 63.29L275.71 63.68L276.31 64.06L276.91 64.44L277.51 64.82L278.10 65.19L278.70 65.56L279.30 65.93L279.89 66.29L280.49 66.65L281.09 67.01L281.69 67.36L282.28 67.71L282.88 68.06L283.48 68.40L284.07 68.74L284.67 69.07L285.27 69.40L285.87 69.73L286.46 70.06L287.06 70.38L287.66 70.70L288.26 71.01L288.85 71.33L289.45 71.64L290.05 71.94L290.64 72.24L291.24 72.54L291.84 72.84L292.44 73.13L293.03 73.42L293.63 73.71L294.23 73.99L294.82 74.27L295.42 74.55L296.02 74.83L296.62 75.10L297.21 75.37L297.81 75.63L298.41 75.89L299.00 76.15L299.60 76.41L300.20 76.66L300.80 76.91L301.39 77.16L301.99 77.41L302.59 77.65L303.18 77.89L303.78 78.12L304.38 78.36L304.98 78.59L305.57 78.81L306.17 79.04L306.77 79.26L307.37 79.48L307.96 79.70L308.56 79.91L309.16 80.12L309.75 80.33L310.35 80.53L310.95 80.74L311.55 80.94L312.14 81.13L312.74 81.33L312.78 81.34L312.98 81.41L313.18 81.47L313.34 81.52L313.39 81.54L313.59 81.60L313.79 81.66L313.93 81.71L314.00 81.73L314.20 81.79L314.41 81.86L314.53 81.89L314.61 81.92L314.81 81.98L315.02 82.04L315.13 82.08L315.22 82.11L315.42 82.17L315.63 82.23L315.73 82.26L316.32 82.44L316.92 82.61L317.52 82.79L318.11 82.96L318.71 83.13L319.31 83.29L319.91 83.46L320.50 83.62L321.10 83.77L321.70 83.93L322.30 84.08L322.89 84.23L323.49 84.38L324.09 84.53L324.68 84.67L325.28 84.81L325.88 84.95L326.48 85.08L327.07 85.22L327.67 85.35L328.27 85.48L328.86 85.60L329.46 85.72L330.06 85.85L330.66 85.96L331.25 86.08L331.85 86.19L332.45 86.31L333.04 86.41L333.64 86.52L334.24 86.63L334.84 86.73L335.43 86.83L336.03 86.93L336.63 87.02L337.22 87.11L337.82 87.20L338.42 87.29L339.02 87.38L339.61 87.46L340.21 87.54L340.81 87.62L341.41 87.70L342.00 87.77L342.60 87.85L343.20 87.92L343.79 87.98L344.39 88.05L344.99 88.11L345.59 88.17L346.18 88.23L346.78 88.29L347.38 88.34L347.97 88.40L348.57 88.45L349.17 88.49L349.77 88.54L350.36 88.58L350.96 88.62L351.56 88.66L352.15 88.70L352.75 88.73L353.35 88.77L353.95 88.80L354.54 88.82L355.14 88.85L355.74 88.87L356.34 88.90L356.93 88.92L357.53 88.93L358.13 88.95L358.72 88.96L359.32 88.97L359.92 88.98L360.52 88.99L361.11 88.99L361.71 88.99L362.31 88.99L362.90 88.99L363.50 88.99L364.10 88.98L364.70 88.97L365.29 88.96L365.89 88.95L366.49 88.93L367.08 88.92L367.68 88.90L368.28 88.88L368.88 88.85L369.47 88.83L370.07 88.80L370.67 88.77L371.26 88.74L371.86 88.70L372.46 88.67L373.06 88.63L373.65 88.59L374.25 88.55L374.85 88.50L375.45 88.46L376.04 88.41L376.64 88.36L377.24 88.30L377.83 88.25L378.43 88.19L379.03 88.13L379.63 88.07L380.22 88.00L380.82 87.94L381.42 87.87L382.01 87.80L382.61 87.73L383.21 87.65L383.81 87.57L384.40 87.49L385.00 87.41L385.60 87.33L386.19 87.24L386.79 87.16L387.39 87.07L387.99 86.97L388.58 86.88L389.18 86.78L389.78 86.68L390.38 86.58L390.97 86.48L391.57 86.38L392.17 86.27L392.76 86.16L393.36 86.05L393.96 85.93L394.56 85.82L395.15 85.70L395.75 85.58L396.35 85.45L396.94 85.33L397.54 85.20L398.14 85.07L398.74 84.94L399.33 84.80L399.93 84.67L400.53 84.53L401.12 84.38L401.72 84.24L402.32 84.09L402.92 83.95L403.51 83.80L404.11 83.64L404.71 83.49L405.30 83.33L405.90 83.17L406.50 83.01L407.10 82.84L407.69 82.68L408.29 82.51L408.89 82.33L409.49 82.16L410.08 81.98L410.68 81.80L411.28 81.62L411.87 81.44L412.47 81.25L413.07 81.06L413.67 80.87L414.26 80.68L414.86 80.48L415.46 80.28L416.05 80.08L416.65 79.88L417.25 79.67L417.85 79.46L418.44 79.25L419.04 79.04L419.64 78.82L420.23 78.60L420.83 78.38L421.43 78.16L422.03 77.93L422.62 77.70L423.22 77.47L423.82 77.23L424.42 77.00L425.01 76.76L425.61 76.51L426.21 76.27L426.80 76.02L427.40 75.77L428.00 75.52L428.60 75.26L429.19 75.00L429.79 74.74L430.39 74.48L430.98 74.21L431.58 73.94L432.18 73.67L432.78 73.39L433.37 73.12L433.97 72.83L434.57 72.55L435.16 72.26L435.76 71.97L436.36 71.68L436.96 71.39L437.55 71.09L438.15 70.79L438.75 70.48L439.34 70.18L439.94 69.87L440.54 69.55L441.14 69.24L441.73 68.92L442.33 68.60L442.93 68.27L443.53 67.94L444.12 67.61L444.72 67.28L445.32 66.94L445.91 66.60L446.51 66.26L447.11 65.91L447.71 65.56L448.30 65.21L448.90 64.85L449.50 64.49L450.09 64.13L450.69 63.76L451.29 63.39L451.89 63.02L452.48 62.65L453.08 62.27L453.68 61.88L454.27 61.50L454.87 61.11L455.47 60.72L456.07 60.32L456.66 59.92L457.26 59.52L457.86 59.11L458.46 58.70L459.05 58.29L459.65 57.87L460.25 57.45L460.84 57.03L461.44 56.60L462.04 56.17L462.64 55.74L463.23 55.30L463.83 54.86L464.43 54.41L465.02 53.97L465.62 53.51L466.22 53.06L466.82 52.60L467.41 52.13L468.01 51.67L468.61 51.19L469.20 50.72L469.80 50.24L470.40 49.76L471.00 49.27L471.59 48.78L472.19 48.29L472.79 47.79L473.38 47.29L473.98 46.78L474.58 46.27L475.18 45.75L475.77 45.24L476.37 44.71L476.97 44.19L477.57 43.66L478.16 43.12L478.76 42.58L479.36 42.04L479.95 41.49L480.55 40.94L481.15 40.39L481.75 39.83L482.34 39.26L482.94 38.69" fill="none" stroke="#f00" stroke-width="1.5" stroke-dasharray="4 1.9"/>
</g>
<rect x="247.30" y="18.10" width="233.10" height="121.00" fill="none" stroke="#6a6a6a" stroke-width="1.2"/>
<path d="M260.20 139.10V141.60M286.10 139.10V141.60M312.00 139.10V141.60M337.90 139.10V141.60M363.80 139.10V141.60M389.70 139.10V141.60M415.60 139.10V141.60M441.50 139.10V141.60M467.40 139.10V141.60M247.30 138.98H244.80M247.30 123.87H244.80M247.30 108.76H244.80M247.30 93.65H244.80M247.30 78.54H244.80M247.30 63.43H244.80M247.30 48.32H244.80M247.30 33.21H244.80M247.30 18.10H244.80" stroke="#6a6a6a" stroke-width="1"/>
<text x="260.20" y="150.2" font-size="8.6" text-anchor="middle">−4</text>
<text x="286.10" y="150.2" font-size="8.6" text-anchor="middle">−3</text>
<text x="312.00" y="150.2" font-size="8.6" text-anchor="middle">−2</text>
<text x="337.90" y="150.2" font-size="8.6" text-anchor="middle">−1</text>
<text x="363.80" y="150.2" font-size="8.6" text-anchor="middle">0</text>
<text x="389.70" y="150.2" font-size="8.6" text-anchor="middle">1</text>
<text x="415.60" y="150.2" font-size="8.6" text-anchor="middle">2</text>
<text x="441.50" y="150.2" font-size="8.6" text-anchor="middle">3</text>
<text x="467.40" y="150.2" font-size="8.6" text-anchor="middle">4</text>
<text x="242.2" y="141.88" font-size="8.8" text-anchor="end" textLength="28.4" lengthAdjust="spacingAndGlyphs">0.99465</text>
<text x="242.2" y="126.77" font-size="8.8" text-anchor="end" textLength="28.4" lengthAdjust="spacingAndGlyphs">0.99470</text>
<text x="242.2" y="111.66" font-size="8.8" text-anchor="end" textLength="28.4" lengthAdjust="spacingAndGlyphs">0.99475</text>
<text x="242.2" y="96.55" font-size="8.8" text-anchor="end" textLength="28.4" lengthAdjust="spacingAndGlyphs">0.99480</text>
<text x="242.2" y="81.44" font-size="8.8" text-anchor="end" textLength="28.4" lengthAdjust="spacingAndGlyphs">0.99485</text>
<text x="242.2" y="66.33" font-size="8.8" text-anchor="end" textLength="28.4" lengthAdjust="spacingAndGlyphs">0.99490</text>
<text x="242.2" y="51.22" font-size="8.8" text-anchor="end" textLength="28.4" lengthAdjust="spacingAndGlyphs">0.99495</text>
<text x="242.2" y="36.11" font-size="8.8" text-anchor="end" textLength="28.4" lengthAdjust="spacingAndGlyphs">0.99500</text>
<text x="242.2" y="21.00" font-size="8.8" text-anchor="end" textLength="28.4" lengthAdjust="spacingAndGlyphs">0.99505</text>
</svg></body></html>
